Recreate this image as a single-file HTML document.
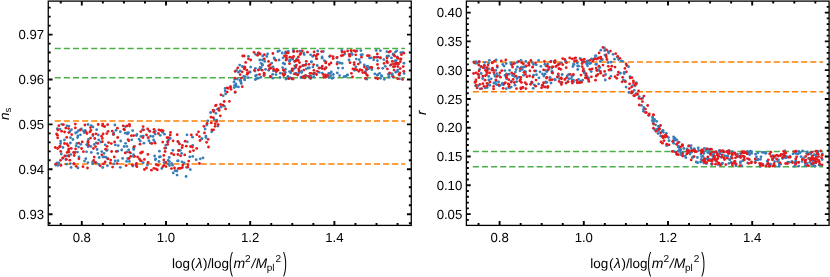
<!DOCTYPE html><html><head><meta charset="utf-8"><title>plot</title><style>html,body{margin:0;padding:0;background:#fff}svg{display:block;will-change:transform}text{font-family:"Liberation Sans",sans-serif;fill:#000;text-rendering:geometricPrecision}</style></head><body><svg width="830" height="277" viewBox="0 0 830 277" font-size="13.5"><rect width="830" height="277" fill="#fff"/><path d="M54.70 48.50H405.00" stroke="#4DAF4A" stroke-width="1.5" stroke-dasharray="6.1 3.02" fill="none"/><path d="M54.70 77.70H405.00" stroke="#4DAF4A" stroke-width="1.5" stroke-dasharray="6.1 3.02" fill="none"/><path d="M54.70 120.90H405.00" stroke="#FF7F00" stroke-width="1.5" stroke-dasharray="6.1 3.02" fill="none"/><path d="M54.70 164.10H405.00" stroke="#FF7F00" stroke-width="1.5" stroke-dasharray="6.1 3.02" fill="none"/><g fill="#377EB8"><circle cx="349.0" cy="60.0" r="1.4"/><circle cx="190.3" cy="169.6" r="1.4"/><circle cx="239.7" cy="65.1" r="1.4"/><circle cx="97.1" cy="149.5" r="1.4"/><circle cx="234.8" cy="79.3" r="1.4"/><circle cx="201.7" cy="138.8" r="1.4"/><circle cx="168.6" cy="139.9" r="1.4"/><circle cx="366.7" cy="79.2" r="1.4"/><circle cx="217.6" cy="109.2" r="1.4"/><circle cx="339.6" cy="62.8" r="1.4"/><circle cx="344.7" cy="53.9" r="1.4"/><circle cx="182.0" cy="161.8" r="1.4"/><circle cx="306.1" cy="64.2" r="1.4"/><circle cx="309.3" cy="77.4" r="1.4"/><circle cx="133.8" cy="148.3" r="1.4"/><circle cx="336.8" cy="57.9" r="1.4"/><circle cx="170.3" cy="138.4" r="1.4"/><circle cx="258.6" cy="78.1" r="1.4"/><circle cx="311.5" cy="61.6" r="1.4"/><circle cx="333.3" cy="74.5" r="1.4"/><circle cx="184.1" cy="162.8" r="1.4"/><circle cx="325.9" cy="68.1" r="1.4"/><circle cx="88.0" cy="124.5" r="1.4"/><circle cx="255.3" cy="79.5" r="1.4"/><circle cx="376.2" cy="57.2" r="1.4"/><circle cx="210.6" cy="112.5" r="1.4"/><circle cx="244.5" cy="78.8" r="1.4"/><circle cx="279.1" cy="60.0" r="1.4"/><circle cx="398.4" cy="64.2" r="1.4"/><circle cx="147.4" cy="164.9" r="1.4"/><circle cx="148.9" cy="140.7" r="1.4"/><circle cx="64.4" cy="139.9" r="1.4"/><circle cx="150.5" cy="136.2" r="1.4"/><circle cx="364.3" cy="64.9" r="1.4"/><circle cx="179.1" cy="150.3" r="1.4"/><circle cx="268.6" cy="70.3" r="1.4"/><circle cx="285.4" cy="53.5" r="1.4"/><circle cx="94.2" cy="144.4" r="1.4"/><circle cx="192.7" cy="145.5" r="1.4"/><circle cx="319.6" cy="67.9" r="1.4"/><circle cx="262.4" cy="60.0" r="1.4"/><circle cx="136.4" cy="135.5" r="1.4"/><circle cx="127.0" cy="151.9" r="1.4"/><circle cx="70.3" cy="163.6" r="1.4"/><circle cx="310.6" cy="76.2" r="1.4"/><circle cx="273.5" cy="70.9" r="1.4"/><circle cx="260.2" cy="68.0" r="1.4"/><circle cx="155.3" cy="159.8" r="1.4"/><circle cx="274.1" cy="58.0" r="1.4"/><circle cx="88.4" cy="139.5" r="1.4"/><circle cx="126.6" cy="161.4" r="1.4"/><circle cx="80.8" cy="144.3" r="1.4"/><circle cx="311.3" cy="62.1" r="1.4"/><circle cx="66.9" cy="125.8" r="1.4"/><circle cx="331.3" cy="72.0" r="1.4"/><circle cx="58.7" cy="163.0" r="1.4"/><circle cx="283.0" cy="57.8" r="1.4"/><circle cx="79.0" cy="156.9" r="1.4"/><circle cx="202.0" cy="138.7" r="1.4"/><circle cx="118.2" cy="145.6" r="1.4"/><circle cx="380.4" cy="50.7" r="1.4"/><circle cx="265.5" cy="69.3" r="1.4"/><circle cx="383.8" cy="59.6" r="1.4"/><circle cx="206.7" cy="125.1" r="1.4"/><circle cx="104.0" cy="153.3" r="1.4"/><circle cx="371.8" cy="69.5" r="1.4"/><circle cx="245.0" cy="76.6" r="1.4"/><circle cx="255.4" cy="68.3" r="1.4"/><circle cx="236.0" cy="84.0" r="1.4"/><circle cx="303.9" cy="76.2" r="1.4"/><circle cx="234.0" cy="82.0" r="1.4"/><circle cx="160.4" cy="156.7" r="1.4"/><circle cx="393.1" cy="53.9" r="1.4"/><circle cx="291.9" cy="78.9" r="1.4"/><circle cx="308.9" cy="76.3" r="1.4"/><circle cx="92.9" cy="135.7" r="1.4"/><circle cx="172.5" cy="165.2" r="1.4"/><circle cx="399.5" cy="75.2" r="1.4"/><circle cx="92.9" cy="126.9" r="1.4"/><circle cx="323.3" cy="51.5" r="1.4"/><circle cx="173.2" cy="172.9" r="1.4"/><circle cx="78.5" cy="130.6" r="1.4"/><circle cx="189.8" cy="156.9" r="1.4"/><circle cx="107.3" cy="149.8" r="1.4"/><circle cx="118.0" cy="160.7" r="1.4"/><circle cx="96.4" cy="162.9" r="1.4"/><circle cx="85.1" cy="130.3" r="1.4"/><circle cx="344.0" cy="76.7" r="1.4"/><circle cx="261.0" cy="67.3" r="1.4"/><circle cx="367.8" cy="66.5" r="1.4"/><circle cx="295.5" cy="67.5" r="1.4"/><circle cx="71.5" cy="129.6" r="1.4"/><circle cx="236.2" cy="86.4" r="1.4"/><circle cx="214.1" cy="110.3" r="1.4"/><circle cx="241.3" cy="83.5" r="1.4"/><circle cx="276.2" cy="71.6" r="1.4"/><circle cx="167.5" cy="141.7" r="1.4"/><circle cx="175.1" cy="170.7" r="1.4"/><circle cx="293.4" cy="51.6" r="1.4"/><circle cx="143.2" cy="162.7" r="1.4"/><circle cx="403.9" cy="63.2" r="1.4"/><circle cx="76.9" cy="143.3" r="1.4"/><circle cx="284.6" cy="71.3" r="1.4"/><circle cx="389.0" cy="77.4" r="1.4"/><circle cx="390.3" cy="65.3" r="1.4"/><circle cx="374.8" cy="73.9" r="1.4"/><circle cx="215.9" cy="113.3" r="1.4"/><circle cx="68.9" cy="126.1" r="1.4"/><circle cx="102.7" cy="167.5" r="1.4"/><circle cx="133.7" cy="149.6" r="1.4"/><circle cx="78.6" cy="147.1" r="1.4"/><circle cx="106.1" cy="157.4" r="1.4"/><circle cx="205.9" cy="136.1" r="1.4"/><circle cx="330.2" cy="73.4" r="1.4"/><circle cx="124.2" cy="146.5" r="1.4"/><circle cx="205.9" cy="137.5" r="1.4"/><circle cx="87.9" cy="162.6" r="1.4"/><circle cx="332.1" cy="78.4" r="1.4"/><circle cx="238.4" cy="72.2" r="1.4"/><circle cx="84.3" cy="132.7" r="1.4"/><circle cx="303.7" cy="52.8" r="1.4"/><circle cx="389.2" cy="74.0" r="1.4"/><circle cx="159.0" cy="161.5" r="1.4"/><circle cx="286.0" cy="79.0" r="1.4"/><circle cx="77.5" cy="152.1" r="1.4"/><circle cx="266.8" cy="56.4" r="1.4"/><circle cx="287.8" cy="76.5" r="1.4"/><circle cx="96.2" cy="142.8" r="1.4"/><circle cx="285.6" cy="51.9" r="1.4"/><circle cx="86.7" cy="144.6" r="1.4"/><circle cx="291.6" cy="57.8" r="1.4"/><circle cx="237.3" cy="79.1" r="1.4"/><circle cx="355.9" cy="66.8" r="1.4"/><circle cx="396.2" cy="60.6" r="1.4"/><circle cx="107.8" cy="158.7" r="1.4"/><circle cx="115.3" cy="144.9" r="1.4"/><circle cx="322.3" cy="73.2" r="1.4"/><circle cx="394.7" cy="61.0" r="1.4"/><circle cx="400.4" cy="59.5" r="1.4"/><circle cx="270.2" cy="76.5" r="1.4"/><circle cx="88.2" cy="146.7" r="1.4"/><circle cx="192.7" cy="156.4" r="1.4"/><circle cx="178.2" cy="160.8" r="1.4"/><circle cx="62.9" cy="147.5" r="1.4"/><circle cx="107.5" cy="165.7" r="1.4"/><circle cx="340.0" cy="63.1" r="1.4"/><circle cx="305.5" cy="75.7" r="1.4"/><circle cx="65.9" cy="159.6" r="1.4"/><circle cx="77.9" cy="135.8" r="1.4"/><circle cx="225.1" cy="88.5" r="1.4"/><circle cx="91.3" cy="152.4" r="1.4"/><circle cx="230.3" cy="86.7" r="1.4"/><circle cx="350.4" cy="54.6" r="1.4"/><circle cx="274.8" cy="59.2" r="1.4"/><circle cx="180.3" cy="150.4" r="1.4"/><circle cx="312.9" cy="66.9" r="1.4"/><circle cx="282.6" cy="67.6" r="1.4"/><circle cx="129.4" cy="161.4" r="1.4"/><circle cx="255.0" cy="71.0" r="1.4"/><circle cx="250.7" cy="67.1" r="1.4"/><circle cx="240.1" cy="70.9" r="1.4"/><circle cx="132.7" cy="130.6" r="1.4"/><circle cx="242.3" cy="66.5" r="1.4"/><circle cx="328.4" cy="76.8" r="1.4"/><circle cx="134.5" cy="146.3" r="1.4"/><circle cx="113.3" cy="134.4" r="1.4"/><circle cx="312.7" cy="56.4" r="1.4"/><circle cx="361.0" cy="54.9" r="1.4"/><circle cx="186.1" cy="176.5" r="1.4"/><circle cx="115.2" cy="161.0" r="1.4"/><circle cx="397.8" cy="70.1" r="1.4"/><circle cx="388.9" cy="76.5" r="1.4"/><circle cx="308.2" cy="68.0" r="1.4"/><circle cx="81.1" cy="129.4" r="1.4"/><circle cx="142.4" cy="129.6" r="1.4"/><circle cx="85.8" cy="158.7" r="1.4"/><circle cx="392.4" cy="76.2" r="1.4"/><circle cx="255.5" cy="75.9" r="1.4"/><circle cx="169.2" cy="157.5" r="1.4"/><circle cx="289.7" cy="61.1" r="1.4"/><circle cx="262.4" cy="65.2" r="1.4"/><circle cx="120.7" cy="141.0" r="1.4"/><circle cx="60.6" cy="143.5" r="1.4"/><circle cx="106.7" cy="150.5" r="1.4"/><circle cx="234.2" cy="87.6" r="1.4"/><circle cx="101.7" cy="151.6" r="1.4"/><circle cx="154.7" cy="141.9" r="1.4"/><circle cx="178.5" cy="142.3" r="1.4"/><circle cx="397.3" cy="56.8" r="1.4"/><circle cx="154.6" cy="156.0" r="1.4"/><circle cx="330.7" cy="75.7" r="1.4"/><circle cx="359.3" cy="59.7" r="1.4"/><circle cx="373.7" cy="59.8" r="1.4"/><circle cx="162.5" cy="132.3" r="1.4"/><circle cx="256.6" cy="75.1" r="1.4"/><circle cx="382.7" cy="68.3" r="1.4"/><circle cx="196.2" cy="159.7" r="1.4"/><circle cx="136.1" cy="165.4" r="1.4"/><circle cx="384.3" cy="79.3" r="1.4"/><circle cx="141.0" cy="136.3" r="1.4"/><circle cx="280.3" cy="73.2" r="1.4"/><circle cx="77.9" cy="167.9" r="1.4"/><circle cx="352.3" cy="54.6" r="1.4"/><circle cx="255.6" cy="54.3" r="1.4"/><circle cx="127.6" cy="133.9" r="1.4"/><circle cx="309.4" cy="67.9" r="1.4"/><circle cx="72.9" cy="139.5" r="1.4"/><circle cx="392.3" cy="74.3" r="1.4"/><circle cx="205.1" cy="129.0" r="1.4"/><circle cx="290.1" cy="77.7" r="1.4"/><circle cx="310.7" cy="76.1" r="1.4"/><circle cx="287.5" cy="51.8" r="1.4"/><circle cx="292.1" cy="70.7" r="1.4"/><circle cx="301.6" cy="77.6" r="1.4"/><circle cx="304.2" cy="54.6" r="1.4"/><circle cx="172.9" cy="150.3" r="1.4"/><circle cx="159.4" cy="151.2" r="1.4"/><circle cx="356.3" cy="59.1" r="1.4"/><circle cx="130.6" cy="153.1" r="1.4"/><circle cx="267.6" cy="54.0" r="1.4"/><circle cx="360.9" cy="50.6" r="1.4"/><circle cx="131.8" cy="139.8" r="1.4"/><circle cx="366.9" cy="66.5" r="1.4"/><circle cx="127.6" cy="158.6" r="1.4"/><circle cx="155.2" cy="134.1" r="1.4"/><circle cx="92.8" cy="163.7" r="1.4"/><circle cx="164.1" cy="162.6" r="1.4"/><circle cx="293.4" cy="50.5" r="1.4"/><circle cx="317.2" cy="54.5" r="1.4"/><circle cx="292.6" cy="59.2" r="1.4"/><circle cx="155.7" cy="158.9" r="1.4"/><circle cx="164.4" cy="134.2" r="1.4"/><circle cx="388.4" cy="74.2" r="1.4"/><circle cx="98.8" cy="164.5" r="1.4"/><circle cx="291.9" cy="70.8" r="1.4"/><circle cx="99.2" cy="157.5" r="1.4"/><circle cx="262.7" cy="56.0" r="1.4"/><circle cx="371.1" cy="57.8" r="1.4"/><circle cx="316.8" cy="58.9" r="1.4"/><circle cx="289.5" cy="71.6" r="1.4"/><circle cx="296.1" cy="73.1" r="1.4"/><circle cx="177.5" cy="160.9" r="1.4"/><circle cx="159.3" cy="157.0" r="1.4"/><circle cx="126.9" cy="146.4" r="1.4"/><circle cx="299.9" cy="51.2" r="1.4"/><circle cx="97.8" cy="153.4" r="1.4"/><circle cx="168.2" cy="160.3" r="1.4"/><circle cx="302.7" cy="65.6" r="1.4"/><circle cx="140.2" cy="160.5" r="1.4"/><circle cx="86.5" cy="151.8" r="1.4"/><circle cx="114.9" cy="125.0" r="1.4"/><circle cx="337.3" cy="72.9" r="1.4"/><circle cx="81.3" cy="128.8" r="1.4"/><circle cx="341.8" cy="50.5" r="1.4"/><circle cx="223.2" cy="95.8" r="1.4"/><circle cx="290.7" cy="72.8" r="1.4"/><circle cx="96.7" cy="129.7" r="1.4"/><circle cx="128.7" cy="149.8" r="1.4"/><circle cx="294.7" cy="65.8" r="1.4"/><circle cx="385.3" cy="66.3" r="1.4"/><circle cx="140.3" cy="140.9" r="1.4"/><circle cx="338.2" cy="68.1" r="1.4"/><circle cx="187.3" cy="141.8" r="1.4"/><circle cx="75.6" cy="133.0" r="1.4"/><circle cx="98.7" cy="139.9" r="1.4"/><circle cx="169.5" cy="165.6" r="1.4"/><circle cx="289.5" cy="60.9" r="1.4"/><circle cx="113.9" cy="163.9" r="1.4"/><circle cx="61.3" cy="154.0" r="1.4"/><circle cx="273.1" cy="67.0" r="1.4"/><circle cx="391.5" cy="57.9" r="1.4"/><circle cx="393.3" cy="54.6" r="1.4"/><circle cx="60.9" cy="164.9" r="1.4"/><circle cx="262.3" cy="64.5" r="1.4"/><circle cx="285.5" cy="69.2" r="1.4"/><circle cx="317.7" cy="50.9" r="1.4"/><circle cx="160.2" cy="135.3" r="1.4"/><circle cx="313.7" cy="74.2" r="1.4"/><circle cx="404.1" cy="73.4" r="1.4"/><circle cx="285.4" cy="72.4" r="1.4"/><circle cx="236.4" cy="70.4" r="1.4"/><circle cx="169.2" cy="161.3" r="1.4"/><circle cx="365.4" cy="71.7" r="1.4"/><circle cx="92.6" cy="161.9" r="1.4"/><circle cx="354.6" cy="70.3" r="1.4"/><circle cx="362.4" cy="54.6" r="1.4"/><circle cx="339.6" cy="75.6" r="1.4"/><circle cx="149.4" cy="130.8" r="1.4"/><circle cx="77.2" cy="132.1" r="1.4"/><circle cx="310.6" cy="78.5" r="1.4"/><circle cx="288.4" cy="51.5" r="1.4"/><circle cx="260.9" cy="77.1" r="1.4"/><circle cx="122.6" cy="158.4" r="1.4"/><circle cx="276.0" cy="74.6" r="1.4"/><circle cx="387.0" cy="56.2" r="1.4"/><circle cx="322.1" cy="58.2" r="1.4"/><circle cx="376.2" cy="50.4" r="1.4"/><circle cx="218.0" cy="126.1" r="1.4"/><circle cx="216.8" cy="120.2" r="1.4"/><circle cx="57.0" cy="162.9" r="1.4"/><circle cx="60.0" cy="129.1" r="1.4"/><circle cx="120.3" cy="131.7" r="1.4"/><circle cx="165.8" cy="145.1" r="1.4"/><circle cx="133.5" cy="154.7" r="1.4"/><circle cx="61.8" cy="124.3" r="1.4"/><circle cx="117.7" cy="151.2" r="1.4"/><circle cx="62.5" cy="158.4" r="1.4"/><circle cx="279.4" cy="50.8" r="1.4"/><circle cx="345.7" cy="76.5" r="1.4"/><circle cx="395.8" cy="72.2" r="1.4"/><circle cx="116.0" cy="130.3" r="1.4"/><circle cx="69.9" cy="131.5" r="1.4"/><circle cx="270.3" cy="67.9" r="1.4"/><circle cx="248.4" cy="56.3" r="1.4"/><circle cx="377.4" cy="75.3" r="1.4"/><circle cx="313.7" cy="76.7" r="1.4"/><circle cx="214.3" cy="119.7" r="1.4"/><circle cx="136.9" cy="134.5" r="1.4"/><circle cx="329.4" cy="56.6" r="1.4"/><circle cx="128.5" cy="132.7" r="1.4"/><circle cx="391.8" cy="73.6" r="1.4"/><circle cx="98.3" cy="135.0" r="1.4"/><circle cx="381.7" cy="76.2" r="1.4"/><circle cx="306.4" cy="68.8" r="1.4"/><circle cx="329.0" cy="77.5" r="1.4"/><circle cx="87.2" cy="145.0" r="1.4"/><circle cx="104.4" cy="126.4" r="1.4"/><circle cx="294.1" cy="73.9" r="1.4"/><circle cx="337.5" cy="62.1" r="1.4"/><circle cx="187.0" cy="134.8" r="1.4"/><circle cx="296.8" cy="58.9" r="1.4"/><circle cx="380.5" cy="58.0" r="1.4"/><circle cx="377.7" cy="74.6" r="1.4"/><circle cx="264.7" cy="61.4" r="1.4"/><circle cx="80.4" cy="134.8" r="1.4"/><circle cx="91.1" cy="125.6" r="1.4"/><circle cx="284.7" cy="64.0" r="1.4"/><circle cx="261.1" cy="63.3" r="1.4"/><circle cx="277.9" cy="51.5" r="1.4"/><circle cx="324.4" cy="60.7" r="1.4"/><circle cx="243.6" cy="76.4" r="1.4"/><circle cx="395.4" cy="52.1" r="1.4"/><circle cx="248.1" cy="77.6" r="1.4"/><circle cx="153.6" cy="140.0" r="1.4"/><circle cx="300.9" cy="77.4" r="1.4"/><circle cx="103.0" cy="157.0" r="1.4"/><circle cx="368.5" cy="68.7" r="1.4"/><circle cx="377.4" cy="60.7" r="1.4"/><circle cx="386.9" cy="51.7" r="1.4"/><circle cx="65.9" cy="156.0" r="1.4"/><circle cx="66.4" cy="164.2" r="1.4"/><circle cx="272.7" cy="74.3" r="1.4"/><circle cx="177.1" cy="175.1" r="1.4"/><circle cx="125.6" cy="143.3" r="1.4"/><circle cx="397.4" cy="71.4" r="1.4"/><circle cx="220.9" cy="107.2" r="1.4"/><circle cx="259.8" cy="69.3" r="1.4"/><circle cx="200.3" cy="158.8" r="1.4"/><circle cx="186.6" cy="167.3" r="1.4"/><circle cx="76.1" cy="145.7" r="1.4"/><circle cx="240.7" cy="80.5" r="1.4"/><circle cx="365.3" cy="72.9" r="1.4"/><circle cx="402.9" cy="52.3" r="1.4"/><circle cx="287.2" cy="59.1" r="1.4"/><circle cx="379.6" cy="73.3" r="1.4"/><circle cx="369.5" cy="58.1" r="1.4"/><circle cx="161.8" cy="168.5" r="1.4"/><circle cx="192.6" cy="137.2" r="1.4"/><circle cx="240.0" cy="80.2" r="1.4"/><circle cx="360.2" cy="62.4" r="1.4"/><circle cx="71.1" cy="167.4" r="1.4"/><circle cx="264.3" cy="74.3" r="1.4"/><circle cx="347.6" cy="74.8" r="1.4"/><circle cx="100.8" cy="142.0" r="1.4"/><circle cx="225.6" cy="93.9" r="1.4"/><circle cx="294.5" cy="61.3" r="1.4"/><circle cx="125.5" cy="126.6" r="1.4"/><circle cx="244.7" cy="79.9" r="1.4"/><circle cx="113.7" cy="133.0" r="1.4"/><circle cx="271.7" cy="63.1" r="1.4"/><circle cx="225.2" cy="91.0" r="1.4"/><circle cx="176.9" cy="171.0" r="1.4"/><circle cx="342.1" cy="63.4" r="1.4"/><circle cx="290.0" cy="60.4" r="1.4"/><circle cx="367.1" cy="69.5" r="1.4"/><circle cx="319.2" cy="72.3" r="1.4"/><circle cx="380.5" cy="78.3" r="1.4"/><circle cx="259.8" cy="60.0" r="1.4"/><circle cx="203.0" cy="157.9" r="1.4"/><circle cx="322.1" cy="56.9" r="1.4"/><circle cx="333.3" cy="77.6" r="1.4"/><circle cx="301.5" cy="71.2" r="1.4"/><circle cx="57.8" cy="165.4" r="1.4"/><circle cx="351.6" cy="53.3" r="1.4"/><circle cx="153.0" cy="136.4" r="1.4"/><circle cx="234.6" cy="85.4" r="1.4"/><circle cx="165.9" cy="147.9" r="1.4"/><circle cx="288.3" cy="78.5" r="1.4"/><circle cx="132.8" cy="166.0" r="1.4"/><circle cx="90.8" cy="146.4" r="1.4"/><circle cx="238.4" cy="86.9" r="1.4"/><circle cx="70.8" cy="154.6" r="1.4"/><circle cx="55.7" cy="165.1" r="1.4"/><circle cx="105.2" cy="144.8" r="1.4"/><circle cx="301.6" cy="72.5" r="1.4"/><circle cx="240.7" cy="81.8" r="1.4"/><circle cx="70.4" cy="143.0" r="1.4"/><circle cx="181.6" cy="153.4" r="1.4"/><circle cx="224.3" cy="106.2" r="1.4"/><circle cx="120.3" cy="167.3" r="1.4"/><circle cx="256.7" cy="78.8" r="1.4"/><circle cx="207.8" cy="120.9" r="1.4"/><circle cx="298.9" cy="73.1" r="1.4"/><circle cx="171.5" cy="163.3" r="1.4"/><circle cx="347.1" cy="75.2" r="1.4"/><circle cx="400.8" cy="52.6" r="1.4"/><circle cx="84.5" cy="161.1" r="1.4"/><circle cx="381.5" cy="75.6" r="1.4"/><circle cx="83.5" cy="131.1" r="1.4"/><circle cx="143.9" cy="143.2" r="1.4"/><circle cx="310.6" cy="54.8" r="1.4"/><circle cx="260.1" cy="67.4" r="1.4"/><circle cx="133.5" cy="156.4" r="1.4"/><circle cx="314.7" cy="73.2" r="1.4"/><circle cx="282.3" cy="53.0" r="1.4"/><circle cx="211.7" cy="131.8" r="1.4"/><circle cx="155.2" cy="131.2" r="1.4"/><circle cx="168.3" cy="163.8" r="1.4"/><circle cx="121.7" cy="150.0" r="1.4"/><circle cx="280.0" cy="77.5" r="1.4"/><circle cx="396.7" cy="50.8" r="1.4"/><circle cx="283.3" cy="63.2" r="1.4"/><circle cx="104.5" cy="156.8" r="1.4"/><circle cx="250.2" cy="72.0" r="1.4"/><circle cx="293.8" cy="68.9" r="1.4"/><circle cx="70.5" cy="137.7" r="1.4"/><circle cx="356.9" cy="50.9" r="1.4"/><circle cx="57.3" cy="128.7" r="1.4"/><circle cx="329.4" cy="73.3" r="1.4"/><circle cx="150.2" cy="142.9" r="1.4"/><circle cx="342.7" cy="68.1" r="1.4"/><circle cx="388.7" cy="55.9" r="1.4"/><circle cx="399.5" cy="78.8" r="1.4"/><circle cx="272.8" cy="78.2" r="1.4"/><circle cx="127.1" cy="132.8" r="1.4"/><circle cx="143.2" cy="136.1" r="1.4"/><circle cx="125.3" cy="133.2" r="1.4"/><circle cx="77.6" cy="137.6" r="1.4"/><circle cx="60.6" cy="141.1" r="1.4"/><circle cx="317.2" cy="65.5" r="1.4"/><circle cx="235.1" cy="92.4" r="1.4"/><circle cx="139.0" cy="139.1" r="1.4"/><circle cx="328.7" cy="73.4" r="1.4"/></g><g fill="#E41A1C"><circle cx="300.4" cy="66.8" r="1.4"/><circle cx="162.7" cy="142.1" r="1.4"/><circle cx="142.9" cy="137.6" r="1.4"/><circle cx="317.8" cy="54.2" r="1.4"/><circle cx="81.6" cy="148.5" r="1.4"/><circle cx="299.0" cy="71.0" r="1.4"/><circle cx="68.4" cy="155.6" r="1.4"/><circle cx="196.7" cy="148.4" r="1.4"/><circle cx="190.0" cy="151.7" r="1.4"/><circle cx="321.6" cy="51.6" r="1.4"/><circle cx="264.3" cy="58.9" r="1.4"/><circle cx="105.1" cy="161.9" r="1.4"/><circle cx="218.1" cy="124.6" r="1.4"/><circle cx="337.0" cy="64.0" r="1.4"/><circle cx="367.4" cy="55.7" r="1.4"/><circle cx="344.5" cy="52.0" r="1.4"/><circle cx="185.2" cy="141.2" r="1.4"/><circle cx="227.2" cy="92.1" r="1.4"/><circle cx="262.2" cy="70.2" r="1.4"/><circle cx="259.5" cy="74.4" r="1.4"/><circle cx="247.2" cy="74.3" r="1.4"/><circle cx="163.9" cy="165.3" r="1.4"/><circle cx="68.9" cy="152.1" r="1.4"/><circle cx="68.2" cy="145.7" r="1.4"/><circle cx="377.8" cy="57.2" r="1.4"/><circle cx="88.1" cy="142.7" r="1.4"/><circle cx="220.3" cy="115.8" r="1.4"/><circle cx="296.2" cy="60.5" r="1.4"/><circle cx="136.5" cy="163.3" r="1.4"/><circle cx="108.1" cy="131.3" r="1.4"/><circle cx="394.7" cy="56.1" r="1.4"/><circle cx="296.4" cy="65.1" r="1.4"/><circle cx="225.6" cy="108.9" r="1.4"/><circle cx="161.6" cy="130.2" r="1.4"/><circle cx="231.0" cy="89.3" r="1.4"/><circle cx="124.5" cy="129.8" r="1.4"/><circle cx="75.3" cy="124.1" r="1.4"/><circle cx="276.1" cy="71.0" r="1.4"/><circle cx="272.9" cy="53.5" r="1.4"/><circle cx="106.8" cy="133.6" r="1.4"/><circle cx="316.2" cy="56.1" r="1.4"/><circle cx="158.4" cy="133.5" r="1.4"/><circle cx="369.2" cy="55.7" r="1.4"/><circle cx="257.6" cy="55.3" r="1.4"/><circle cx="401.4" cy="54.7" r="1.4"/><circle cx="129.0" cy="158.5" r="1.4"/><circle cx="188.0" cy="164.7" r="1.4"/><circle cx="68.5" cy="149.9" r="1.4"/><circle cx="283.7" cy="75.5" r="1.4"/><circle cx="80.3" cy="130.0" r="1.4"/><circle cx="394.1" cy="70.1" r="1.4"/><circle cx="56.6" cy="134.0" r="1.4"/><circle cx="111.3" cy="143.6" r="1.4"/><circle cx="278.0" cy="70.2" r="1.4"/><circle cx="282.7" cy="73.6" r="1.4"/><circle cx="227.2" cy="87.8" r="1.4"/><circle cx="188.7" cy="161.1" r="1.4"/><circle cx="177.8" cy="141.5" r="1.4"/><circle cx="60.5" cy="160.3" r="1.4"/><circle cx="213.6" cy="129.8" r="1.4"/><circle cx="206.6" cy="142.3" r="1.4"/><circle cx="168.5" cy="137.6" r="1.4"/><circle cx="394.8" cy="66.4" r="1.4"/><circle cx="162.9" cy="166.6" r="1.4"/><circle cx="325.7" cy="62.9" r="1.4"/><circle cx="299.5" cy="62.6" r="1.4"/><circle cx="219.2" cy="110.4" r="1.4"/><circle cx="308.3" cy="76.3" r="1.4"/><circle cx="184.7" cy="154.9" r="1.4"/><circle cx="110.7" cy="160.1" r="1.4"/><circle cx="355.7" cy="54.8" r="1.4"/><circle cx="235.2" cy="78.1" r="1.4"/><circle cx="140.6" cy="152.9" r="1.4"/><circle cx="198.5" cy="131.8" r="1.4"/><circle cx="298.4" cy="57.0" r="1.4"/><circle cx="90.5" cy="138.1" r="1.4"/><circle cx="180.5" cy="168.3" r="1.4"/><circle cx="314.0" cy="55.3" r="1.4"/><circle cx="374.0" cy="57.5" r="1.4"/><circle cx="165.1" cy="151.5" r="1.4"/><circle cx="55.3" cy="147.5" r="1.4"/><circle cx="153.9" cy="132.2" r="1.4"/><circle cx="244.2" cy="56.0" r="1.4"/><circle cx="134.6" cy="156.4" r="1.4"/><circle cx="398.0" cy="58.4" r="1.4"/><circle cx="303.6" cy="65.5" r="1.4"/><circle cx="349.7" cy="56.2" r="1.4"/><circle cx="354.2" cy="64.6" r="1.4"/><circle cx="178.4" cy="150.5" r="1.4"/><circle cx="167.9" cy="141.7" r="1.4"/><circle cx="223.0" cy="105.2" r="1.4"/><circle cx="102.7" cy="124.1" r="1.4"/><circle cx="258.3" cy="53.0" r="1.4"/><circle cx="331.0" cy="62.9" r="1.4"/><circle cx="378.3" cy="68.2" r="1.4"/><circle cx="191.3" cy="135.0" r="1.4"/><circle cx="361.5" cy="57.2" r="1.4"/><circle cx="182.4" cy="145.4" r="1.4"/><circle cx="395.6" cy="63.7" r="1.4"/><circle cx="108.6" cy="142.6" r="1.4"/><circle cx="403.8" cy="71.3" r="1.4"/><circle cx="187.7" cy="167.2" r="1.4"/><circle cx="97.8" cy="143.4" r="1.4"/><circle cx="78.7" cy="143.1" r="1.4"/><circle cx="403.8" cy="53.2" r="1.4"/><circle cx="284.7" cy="74.2" r="1.4"/><circle cx="158.2" cy="165.3" r="1.4"/><circle cx="129.4" cy="124.3" r="1.4"/><circle cx="147.7" cy="129.0" r="1.4"/><circle cx="157.3" cy="169.8" r="1.4"/><circle cx="215.5" cy="105.7" r="1.4"/><circle cx="203.9" cy="126.3" r="1.4"/><circle cx="178.3" cy="168.6" r="1.4"/><circle cx="330.4" cy="55.9" r="1.4"/><circle cx="291.9" cy="78.4" r="1.4"/><circle cx="352.5" cy="76.9" r="1.4"/><circle cx="93.4" cy="148.4" r="1.4"/><circle cx="350.0" cy="62.7" r="1.4"/><circle cx="182.1" cy="147.7" r="1.4"/><circle cx="365.3" cy="78.4" r="1.4"/><circle cx="286.3" cy="57.8" r="1.4"/><circle cx="73.6" cy="152.5" r="1.4"/><circle cx="274.0" cy="69.8" r="1.4"/><circle cx="211.0" cy="117.2" r="1.4"/><circle cx="93.0" cy="134.4" r="1.4"/><circle cx="88.7" cy="145.3" r="1.4"/><circle cx="151.4" cy="170.2" r="1.4"/><circle cx="241.4" cy="78.1" r="1.4"/><circle cx="254.0" cy="52.3" r="1.4"/><circle cx="164.8" cy="148.2" r="1.4"/><circle cx="398.2" cy="63.4" r="1.4"/><circle cx="240.1" cy="74.6" r="1.4"/><circle cx="283.8" cy="70.3" r="1.4"/><circle cx="318.9" cy="68.1" r="1.4"/><circle cx="375.7" cy="78.0" r="1.4"/><circle cx="196.8" cy="134.7" r="1.4"/><circle cx="337.1" cy="57.3" r="1.4"/><circle cx="322.3" cy="66.1" r="1.4"/><circle cx="216.2" cy="105.1" r="1.4"/><circle cx="316.6" cy="74.5" r="1.4"/><circle cx="343.0" cy="55.3" r="1.4"/><circle cx="370.4" cy="67.3" r="1.4"/><circle cx="310.8" cy="73.3" r="1.4"/><circle cx="393.6" cy="63.8" r="1.4"/><circle cx="149.8" cy="131.3" r="1.4"/><circle cx="306.3" cy="61.3" r="1.4"/><circle cx="213.6" cy="111.7" r="1.4"/><circle cx="310.7" cy="77.9" r="1.4"/><circle cx="57.6" cy="148.5" r="1.4"/><circle cx="355.6" cy="51.4" r="1.4"/><circle cx="288.9" cy="78.5" r="1.4"/><circle cx="250.7" cy="60.0" r="1.4"/><circle cx="69.8" cy="160.2" r="1.4"/><circle cx="302.2" cy="50.8" r="1.4"/><circle cx="329.2" cy="64.5" r="1.4"/><circle cx="244.9" cy="67.3" r="1.4"/><circle cx="90.4" cy="127.6" r="1.4"/><circle cx="163.2" cy="130.8" r="1.4"/><circle cx="286.5" cy="55.8" r="1.4"/><circle cx="322.2" cy="68.6" r="1.4"/><circle cx="83.4" cy="151.7" r="1.4"/><circle cx="307.5" cy="52.2" r="1.4"/><circle cx="128.1" cy="139.7" r="1.4"/><circle cx="295.7" cy="67.0" r="1.4"/><circle cx="148.2" cy="137.7" r="1.4"/><circle cx="60.1" cy="146.2" r="1.4"/><circle cx="146.5" cy="168.0" r="1.4"/><circle cx="96.0" cy="133.8" r="1.4"/><circle cx="67.1" cy="152.4" r="1.4"/><circle cx="254.4" cy="70.3" r="1.4"/><circle cx="129.5" cy="152.3" r="1.4"/><circle cx="286.0" cy="60.1" r="1.4"/><circle cx="300.9" cy="53.4" r="1.4"/><circle cx="354.3" cy="50.7" r="1.4"/><circle cx="76.2" cy="166.3" r="1.4"/><circle cx="116.3" cy="151.4" r="1.4"/><circle cx="298.3" cy="60.5" r="1.4"/><circle cx="260.1" cy="54.0" r="1.4"/><circle cx="316.3" cy="58.6" r="1.4"/><circle cx="73.8" cy="164.0" r="1.4"/><circle cx="402.5" cy="79.4" r="1.4"/><circle cx="133.8" cy="146.9" r="1.4"/><circle cx="224.2" cy="101.5" r="1.4"/><circle cx="300.0" cy="67.1" r="1.4"/><circle cx="342.0" cy="52.0" r="1.4"/><circle cx="131.4" cy="135.7" r="1.4"/><circle cx="102.5" cy="125.7" r="1.4"/><circle cx="313.7" cy="64.6" r="1.4"/><circle cx="401.0" cy="59.0" r="1.4"/><circle cx="98.2" cy="124.5" r="1.4"/><circle cx="228.0" cy="88.3" r="1.4"/><circle cx="362.8" cy="72.6" r="1.4"/><circle cx="60.7" cy="151.4" r="1.4"/><circle cx="75.6" cy="148.9" r="1.4"/><circle cx="364.4" cy="67.1" r="1.4"/><circle cx="293.8" cy="51.5" r="1.4"/><circle cx="289.5" cy="63.7" r="1.4"/><circle cx="63.4" cy="124.7" r="1.4"/><circle cx="393.4" cy="76.9" r="1.4"/><circle cx="216.7" cy="121.4" r="1.4"/><circle cx="71.7" cy="134.6" r="1.4"/><circle cx="171.5" cy="168.6" r="1.4"/><circle cx="351.2" cy="50.8" r="1.4"/><circle cx="333.2" cy="58.6" r="1.4"/><circle cx="167.0" cy="137.7" r="1.4"/><circle cx="68.9" cy="148.9" r="1.4"/><circle cx="387.0" cy="58.1" r="1.4"/><circle cx="351.4" cy="73.3" r="1.4"/><circle cx="365.2" cy="72.7" r="1.4"/><circle cx="391.4" cy="64.7" r="1.4"/><circle cx="244.0" cy="67.8" r="1.4"/><circle cx="305.6" cy="75.6" r="1.4"/><circle cx="107.6" cy="124.7" r="1.4"/><circle cx="179.7" cy="168.1" r="1.4"/><circle cx="199.4" cy="163.5" r="1.4"/><circle cx="179.5" cy="143.9" r="1.4"/><circle cx="123.2" cy="125.8" r="1.4"/><circle cx="207.1" cy="123.5" r="1.4"/><circle cx="392.3" cy="61.4" r="1.4"/><circle cx="327.6" cy="75.3" r="1.4"/><circle cx="387.5" cy="62.7" r="1.4"/><circle cx="268.5" cy="61.4" r="1.4"/><circle cx="218.6" cy="108.7" r="1.4"/><circle cx="167.7" cy="144.4" r="1.4"/><circle cx="400.2" cy="68.6" r="1.4"/><circle cx="288.1" cy="52.9" r="1.4"/><circle cx="84.9" cy="125.0" r="1.4"/><circle cx="208.5" cy="147.0" r="1.4"/><circle cx="242.2" cy="71.8" r="1.4"/><circle cx="297.7" cy="74.9" r="1.4"/><circle cx="129.6" cy="126.1" r="1.4"/><circle cx="397.4" cy="63.9" r="1.4"/><circle cx="94.2" cy="157.1" r="1.4"/><circle cx="390.3" cy="51.4" r="1.4"/><circle cx="389.6" cy="73.0" r="1.4"/><circle cx="292.5" cy="57.8" r="1.4"/><circle cx="213.1" cy="110.1" r="1.4"/><circle cx="258.3" cy="70.0" r="1.4"/><circle cx="60.9" cy="165.4" r="1.4"/><circle cx="101.5" cy="136.2" r="1.4"/><circle cx="163.8" cy="155.4" r="1.4"/><circle cx="324.6" cy="69.0" r="1.4"/><circle cx="313.9" cy="70.3" r="1.4"/><circle cx="295.1" cy="74.0" r="1.4"/><circle cx="246.9" cy="70.2" r="1.4"/><circle cx="74.0" cy="163.6" r="1.4"/><circle cx="158.9" cy="129.9" r="1.4"/><circle cx="102.4" cy="141.7" r="1.4"/><circle cx="117.4" cy="128.2" r="1.4"/><circle cx="87.5" cy="168.0" r="1.4"/><circle cx="211.3" cy="122.9" r="1.4"/><circle cx="276.9" cy="69.3" r="1.4"/><circle cx="220.6" cy="104.5" r="1.4"/><circle cx="314.1" cy="51.9" r="1.4"/><circle cx="360.0" cy="69.6" r="1.4"/><circle cx="215.1" cy="126.3" r="1.4"/><circle cx="354.2" cy="62.6" r="1.4"/><circle cx="271.3" cy="67.9" r="1.4"/><circle cx="268.6" cy="65.9" r="1.4"/><circle cx="107.1" cy="146.3" r="1.4"/><circle cx="403.2" cy="66.6" r="1.4"/><circle cx="127.0" cy="125.9" r="1.4"/><circle cx="397.1" cy="63.8" r="1.4"/><circle cx="141.2" cy="160.9" r="1.4"/><circle cx="90.9" cy="130.4" r="1.4"/><circle cx="112.6" cy="167.1" r="1.4"/><circle cx="292.2" cy="70.6" r="1.4"/><circle cx="55.7" cy="164.1" r="1.4"/><circle cx="166.0" cy="166.6" r="1.4"/><circle cx="78.9" cy="158.8" r="1.4"/><circle cx="270.8" cy="76.7" r="1.4"/><circle cx="139.4" cy="158.9" r="1.4"/><circle cx="292.1" cy="68.9" r="1.4"/><circle cx="113.6" cy="134.3" r="1.4"/><circle cx="104.6" cy="126.4" r="1.4"/><circle cx="137.6" cy="156.9" r="1.4"/><circle cx="59.5" cy="147.0" r="1.4"/><circle cx="68.6" cy="128.6" r="1.4"/><circle cx="380.3" cy="57.7" r="1.4"/><circle cx="300.1" cy="54.5" r="1.4"/><circle cx="293.1" cy="79.1" r="1.4"/><circle cx="400.3" cy="61.8" r="1.4"/><circle cx="248.4" cy="58.8" r="1.4"/><circle cx="355.3" cy="68.9" r="1.4"/><circle cx="140.8" cy="131.6" r="1.4"/><circle cx="160.7" cy="130.5" r="1.4"/><circle cx="117.7" cy="137.5" r="1.4"/><circle cx="325.5" cy="74.9" r="1.4"/><circle cx="199.4" cy="136.6" r="1.4"/><circle cx="298.8" cy="69.0" r="1.4"/><circle cx="204.4" cy="132.9" r="1.4"/><circle cx="100.3" cy="165.8" r="1.4"/><circle cx="386.9" cy="61.1" r="1.4"/><circle cx="173.1" cy="140.8" r="1.4"/><circle cx="112.2" cy="131.1" r="1.4"/><circle cx="144.4" cy="159.4" r="1.4"/><circle cx="276.2" cy="71.4" r="1.4"/><circle cx="235.2" cy="91.9" r="1.4"/><circle cx="302.3" cy="77.0" r="1.4"/><circle cx="170.5" cy="132.5" r="1.4"/><circle cx="103.4" cy="163.9" r="1.4"/><circle cx="275.8" cy="60.3" r="1.4"/><circle cx="393.4" cy="66.8" r="1.4"/><circle cx="174.5" cy="168.0" r="1.4"/><circle cx="317.3" cy="71.3" r="1.4"/><circle cx="125.2" cy="152.9" r="1.4"/><circle cx="93.7" cy="160.4" r="1.4"/><circle cx="165.9" cy="162.4" r="1.4"/><circle cx="349.2" cy="54.5" r="1.4"/><circle cx="269.4" cy="69.0" r="1.4"/><circle cx="94.8" cy="138.5" r="1.4"/><circle cx="303.9" cy="70.1" r="1.4"/><circle cx="323.8" cy="77.1" r="1.4"/><circle cx="110.4" cy="163.0" r="1.4"/><circle cx="377.3" cy="53.9" r="1.4"/><circle cx="213.3" cy="117.7" r="1.4"/><circle cx="75.3" cy="127.9" r="1.4"/><circle cx="128.8" cy="140.7" r="1.4"/><circle cx="264.1" cy="73.2" r="1.4"/><circle cx="333.0" cy="56.6" r="1.4"/><circle cx="156.2" cy="164.6" r="1.4"/><circle cx="200.0" cy="140.5" r="1.4"/><circle cx="208.1" cy="139.3" r="1.4"/><circle cx="397.2" cy="57.5" r="1.4"/><circle cx="58.8" cy="125.7" r="1.4"/><circle cx="366.4" cy="69.2" r="1.4"/><circle cx="192.4" cy="147.1" r="1.4"/><circle cx="377.5" cy="64.4" r="1.4"/><circle cx="399.0" cy="74.5" r="1.4"/><circle cx="399.8" cy="72.9" r="1.4"/><circle cx="140.0" cy="144.2" r="1.4"/><circle cx="61.6" cy="131.2" r="1.4"/><circle cx="126.1" cy="165.6" r="1.4"/><circle cx="151.8" cy="143.5" r="1.4"/><circle cx="352.9" cy="68.9" r="1.4"/><circle cx="130.7" cy="156.4" r="1.4"/><circle cx="358.8" cy="71.3" r="1.4"/><circle cx="286.8" cy="52.7" r="1.4"/><circle cx="326.0" cy="67.6" r="1.4"/><circle cx="273.8" cy="69.5" r="1.4"/><circle cx="88.0" cy="141.4" r="1.4"/><circle cx="142.5" cy="152.0" r="1.4"/><circle cx="309.0" cy="64.3" r="1.4"/><circle cx="154.0" cy="129.3" r="1.4"/><circle cx="362.0" cy="70.3" r="1.4"/><circle cx="358.3" cy="64.1" r="1.4"/><circle cx="397.7" cy="78.7" r="1.4"/><circle cx="305.5" cy="65.1" r="1.4"/><circle cx="95.6" cy="146.6" r="1.4"/><circle cx="65.8" cy="128.1" r="1.4"/><circle cx="293.6" cy="56.5" r="1.4"/><circle cx="114.6" cy="141.9" r="1.4"/><circle cx="57.9" cy="130.0" r="1.4"/><circle cx="264.0" cy="75.6" r="1.4"/><circle cx="74.2" cy="155.5" r="1.4"/><circle cx="289.9" cy="57.2" r="1.4"/><circle cx="387.4" cy="68.9" r="1.4"/><circle cx="264.4" cy="54.7" r="1.4"/><circle cx="66.3" cy="159.3" r="1.4"/><circle cx="95.4" cy="162.5" r="1.4"/><circle cx="351.2" cy="50.6" r="1.4"/><circle cx="163.8" cy="160.0" r="1.4"/><circle cx="114.3" cy="156.9" r="1.4"/><circle cx="177.2" cy="134.7" r="1.4"/><circle cx="82.2" cy="141.9" r="1.4"/><circle cx="221.0" cy="94.8" r="1.4"/><circle cx="180.6" cy="155.8" r="1.4"/><circle cx="75.1" cy="152.5" r="1.4"/><circle cx="325.9" cy="62.0" r="1.4"/><circle cx="258.7" cy="53.2" r="1.4"/><circle cx="284.5" cy="56.0" r="1.4"/><circle cx="68.8" cy="156.2" r="1.4"/><circle cx="247.5" cy="73.1" r="1.4"/><circle cx="144.4" cy="169.5" r="1.4"/><circle cx="295.1" cy="61.3" r="1.4"/><circle cx="211.9" cy="129.9" r="1.4"/><circle cx="323.5" cy="74.7" r="1.4"/><circle cx="347.6" cy="51.0" r="1.4"/><circle cx="244.4" cy="68.9" r="1.4"/><circle cx="111.6" cy="151.5" r="1.4"/><circle cx="356.8" cy="69.8" r="1.4"/><circle cx="64.5" cy="143.5" r="1.4"/><circle cx="148.1" cy="162.5" r="1.4"/><circle cx="304.5" cy="77.9" r="1.4"/><circle cx="310.0" cy="73.3" r="1.4"/><circle cx="103.1" cy="134.0" r="1.4"/><circle cx="235.1" cy="71.4" r="1.4"/><circle cx="146.5" cy="135.0" r="1.4"/><circle cx="171.5" cy="153.4" r="1.4"/><circle cx="68.8" cy="132.6" r="1.4"/><circle cx="136.9" cy="166.7" r="1.4"/><circle cx="87.0" cy="133.6" r="1.4"/><circle cx="105.6" cy="149.2" r="1.4"/><circle cx="230.6" cy="87.0" r="1.4"/><circle cx="173.9" cy="154.7" r="1.4"/><circle cx="71.3" cy="148.4" r="1.4"/><circle cx="366.6" cy="74.6" r="1.4"/><circle cx="101.8" cy="154.8" r="1.4"/><circle cx="64.6" cy="132.0" r="1.4"/><circle cx="153.8" cy="168.4" r="1.4"/><circle cx="297.3" cy="51.4" r="1.4"/><circle cx="397.8" cy="66.6" r="1.4"/><circle cx="66.7" cy="137.3" r="1.4"/><circle cx="386.9" cy="61.7" r="1.4"/><circle cx="371.8" cy="67.5" r="1.4"/><circle cx="313.5" cy="73.4" r="1.4"/><circle cx="270.1" cy="64.6" r="1.4"/><circle cx="396.2" cy="62.8" r="1.4"/><circle cx="57.7" cy="137.8" r="1.4"/><circle cx="136.0" cy="164.7" r="1.4"/><circle cx="245.7" cy="62.4" r="1.4"/><circle cx="229.4" cy="101.3" r="1.4"/><circle cx="190.6" cy="146.5" r="1.4"/><circle cx="117.2" cy="163.6" r="1.4"/><circle cx="237.7" cy="68.0" r="1.4"/><circle cx="64.8" cy="156.0" r="1.4"/><circle cx="143.6" cy="129.9" r="1.4"/><circle cx="321.7" cy="67.8" r="1.4"/><circle cx="193.5" cy="150.6" r="1.4"/><circle cx="147.9" cy="154.4" r="1.4"/><circle cx="283.3" cy="69.9" r="1.4"/><circle cx="367.4" cy="75.5" r="1.4"/><circle cx="155.1" cy="143.2" r="1.4"/><circle cx="83.0" cy="166.7" r="1.4"/><circle cx="143.1" cy="126.6" r="1.4"/><circle cx="102.3" cy="138.4" r="1.4"/><circle cx="182.8" cy="165.0" r="1.4"/><circle cx="215.2" cy="123.7" r="1.4"/><circle cx="156.2" cy="168.8" r="1.4"/><circle cx="57.4" cy="135.2" r="1.4"/><circle cx="248.4" cy="72.7" r="1.4"/><circle cx="86.0" cy="131.8" r="1.4"/><circle cx="297.6" cy="74.8" r="1.4"/><circle cx="242.3" cy="86.7" r="1.4"/><circle cx="389.1" cy="52.1" r="1.4"/><circle cx="141.1" cy="153.0" r="1.4"/><circle cx="123.9" cy="129.2" r="1.4"/><circle cx="377.7" cy="78.8" r="1.4"/><circle cx="67.0" cy="144.0" r="1.4"/><circle cx="177.9" cy="154.5" r="1.4"/><circle cx="63.0" cy="157.8" r="1.4"/><circle cx="182.4" cy="167.5" r="1.4"/><circle cx="384.0" cy="63.4" r="1.4"/><circle cx="133.7" cy="135.6" r="1.4"/><circle cx="244.6" cy="67.0" r="1.4"/><circle cx="107.9" cy="158.8" r="1.4"/><circle cx="341.3" cy="55.7" r="1.4"/><circle cx="170.2" cy="135.1" r="1.4"/><circle cx="186.3" cy="146.2" r="1.4"/><circle cx="242.7" cy="56.0" r="1.4"/><circle cx="89.9" cy="131.9" r="1.4"/><circle cx="325.7" cy="77.2" r="1.4"/><circle cx="132.3" cy="164.9" r="1.4"/><circle cx="393.9" cy="55.0" r="1.4"/></g><path d="M60.75 225.40v-2.40M60.75 1.10v2.40M81.80 225.40v-4.30M81.80 1.10v4.30M102.85 225.40v-2.40M102.85 1.10v2.40M123.90 225.40v-2.40M123.90 1.10v2.40M144.95 225.40v-2.40M144.95 1.10v2.40M166.00 225.40v-4.30M166.00 1.10v4.30M187.05 225.40v-2.40M187.05 1.10v2.40M208.10 225.40v-2.40M208.10 1.10v2.40M229.15 225.40v-2.40M229.15 1.10v2.40M250.20 225.40v-4.30M250.20 1.10v4.30M271.25 225.40v-2.40M271.25 1.10v2.40M292.30 225.40v-2.40M292.30 1.10v2.40M313.35 225.40v-2.40M313.35 1.10v2.40M334.40 225.40v-4.30M334.40 1.10v4.30M355.45 225.40v-2.40M355.45 1.10v2.40M376.50 225.40v-2.40M376.50 1.10v2.40M397.55 225.40v-2.40M397.55 1.10v2.40M48.25 223.18h2.40M411.25 223.18h-2.40M48.25 214.20h4.30M411.25 214.20h-4.30M48.25 205.22h2.40M411.25 205.22h-2.40M48.25 196.24h2.40M411.25 196.24h-2.40M48.25 187.26h2.40M411.25 187.26h-2.40M48.25 178.28h2.40M411.25 178.28h-2.40M48.25 169.30h4.30M411.25 169.30h-4.30M48.25 160.32h2.40M411.25 160.32h-2.40M48.25 151.34h2.40M411.25 151.34h-2.40M48.25 142.36h2.40M411.25 142.36h-2.40M48.25 133.38h2.40M411.25 133.38h-2.40M48.25 124.40h4.30M411.25 124.40h-4.30M48.25 115.42h2.40M411.25 115.42h-2.40M48.25 106.44h2.40M411.25 106.44h-2.40M48.25 97.46h2.40M411.25 97.46h-2.40M48.25 88.48h2.40M411.25 88.48h-2.40M48.25 79.50h4.30M411.25 79.50h-4.30M48.25 70.52h2.40M411.25 70.52h-2.40M48.25 61.54h2.40M411.25 61.54h-2.40M48.25 52.56h2.40M411.25 52.56h-2.40M48.25 43.58h2.40M411.25 43.58h-2.40M48.25 34.60h4.30M411.25 34.60h-4.30M48.25 25.62h2.40M411.25 25.62h-2.40M48.25 16.64h2.40M411.25 16.64h-2.40M48.25 7.66h2.40M411.25 7.66h-2.40" stroke="#000" stroke-width="1.90" fill="none"/><rect x="48.25" y="1.10" width="363.00" height="224.30" fill="none" stroke="#000" stroke-width="1.3"/><text x="81.80" y="241.5" text-anchor="middle" font-size="13.2">0.8</text><text x="166.00" y="241.5" text-anchor="middle" font-size="13.2">1.0</text><text x="250.20" y="241.5" text-anchor="middle" font-size="13.2">1.2</text><text x="334.40" y="241.5" text-anchor="middle" font-size="13.2">1.4</text><text x="44.15" y="218.95" text-anchor="end" font-size="13.2">0.93</text><text x="44.15" y="174.05" text-anchor="end" font-size="13.2">0.94</text><text x="44.15" y="129.15" text-anchor="end" font-size="13.2">0.95</text><text x="44.15" y="84.25" text-anchor="end" font-size="13.2">0.96</text><text x="44.15" y="39.35" text-anchor="end" font-size="13.2">0.97</text><text transform="translate(8.6 119.9) rotate(-90)" font-style="italic">n<tspan font-size="9.6" font-style="normal" dy="2.2">s</tspan></text><g font-size="13.5"><text x="171.95" y="267.80">log</text><text x="190.70" y="267.80">(</text><text x="195.80" y="267.80" font-style="italic" font-size="13.9">λ</text><text x="203.10" y="267.80">)</text><text x="207.60" y="267.80">/</text><text x="211.10" y="267.80">log</text><text transform="translate(229.00 270.70) scale(0.88 1.95)" font-size="13.5">(</text><text x="233.50" y="267.80" font-style="italic" font-size="14">m</text><text x="245.10" y="261.80" font-size="10">2</text><text x="251.50" y="267.80" font-style="italic">/</text><text x="255.50" y="267.80" font-style="italic" font-size="14">M</text><text x="266.70" y="270.50" font-size="10">pl</text><text x="275.50" y="261.50" font-size="10">2</text><text transform="translate(282.90 270.70) scale(0.88 1.95)" font-size="13.5">)</text></g><path d="M472.80 62.10H823.20" stroke="#FF7F00" stroke-width="1.5" stroke-dasharray="6.1 3.02" fill="none"/><path d="M472.80 91.75H823.20" stroke="#FF7F00" stroke-width="1.5" stroke-dasharray="6.1 3.02" fill="none"/><path d="M472.80 151.50H823.20" stroke="#4DAF4A" stroke-width="1.5" stroke-dasharray="6.1 3.02" fill="none"/><path d="M472.80 166.80H823.20" stroke="#4DAF4A" stroke-width="1.5" stroke-dasharray="6.1 3.02" fill="none"/><g fill="#377EB8"><circle cx="628.5" cy="66.7" r="1.4"/><circle cx="622.6" cy="61.3" r="1.4"/><circle cx="617.5" cy="57.3" r="1.4"/><circle cx="613.1" cy="54.3" r="1.4"/><circle cx="608.3" cy="51.7" r="1.4"/><circle cx="604.7" cy="50.6" r="1.4"/><circle cx="600.8" cy="50.2" r="1.4"/><circle cx="596.0" cy="55.9" r="1.4"/><circle cx="767.3" cy="161.2" r="1.4"/><circle cx="608.6" cy="53.0" r="1.4"/><circle cx="658.0" cy="133.6" r="1.4"/><circle cx="515.4" cy="72.1" r="1.4"/><circle cx="653.1" cy="122.9" r="1.4"/><circle cx="620.0" cy="73.1" r="1.4"/><circle cx="586.9" cy="76.6" r="1.4"/><circle cx="785.0" cy="150.9" r="1.4"/><circle cx="635.9" cy="93.6" r="1.4"/><circle cx="757.9" cy="159.7" r="1.4"/><circle cx="763.0" cy="164.5" r="1.4"/><circle cx="600.3" cy="61.4" r="1.4"/><circle cx="724.4" cy="158.1" r="1.4"/><circle cx="727.6" cy="151.1" r="1.4"/><circle cx="552.1" cy="72.0" r="1.4"/><circle cx="755.1" cy="162.3" r="1.4"/><circle cx="588.6" cy="77.8" r="1.4"/><circle cx="676.9" cy="139.9" r="1.4"/><circle cx="729.8" cy="159.7" r="1.4"/><circle cx="751.6" cy="153.3" r="1.4"/><circle cx="602.4" cy="59.7" r="1.4"/><circle cx="744.2" cy="156.6" r="1.4"/><circle cx="506.3" cy="88.7" r="1.4"/><circle cx="673.6" cy="136.8" r="1.4"/><circle cx="794.5" cy="162.7" r="1.4"/><circle cx="628.9" cy="92.5" r="1.4"/><circle cx="662.8" cy="130.8" r="1.4"/><circle cx="697.4" cy="157.5" r="1.4"/><circle cx="816.7" cy="158.9" r="1.4"/><circle cx="565.7" cy="61.3" r="1.4"/><circle cx="567.2" cy="76.0" r="1.4"/><circle cx="482.7" cy="78.5" r="1.4"/><circle cx="568.8" cy="78.7" r="1.4"/><circle cx="782.6" cy="158.6" r="1.4"/><circle cx="597.4" cy="70.4" r="1.4"/><circle cx="686.9" cy="148.9" r="1.4"/><circle cx="703.7" cy="162.1" r="1.4"/><circle cx="512.5" cy="75.5" r="1.4"/><circle cx="611.0" cy="70.2" r="1.4"/><circle cx="737.9" cy="156.6" r="1.4"/><circle cx="680.7" cy="152.5" r="1.4"/><circle cx="554.7" cy="79.4" r="1.4"/><circle cx="545.3" cy="70.3" r="1.4"/><circle cx="488.6" cy="62.9" r="1.4"/><circle cx="728.9" cy="151.8" r="1.4"/><circle cx="691.8" cy="150.0" r="1.4"/><circle cx="678.5" cy="146.8" r="1.4"/><circle cx="573.6" cy="64.0" r="1.4"/><circle cx="692.4" cy="157.5" r="1.4"/><circle cx="506.7" cy="78.8" r="1.4"/><circle cx="544.9" cy="64.2" r="1.4"/><circle cx="499.1" cy="75.6" r="1.4"/><circle cx="729.6" cy="159.4" r="1.4"/><circle cx="485.2" cy="87.8" r="1.4"/><circle cx="749.6" cy="154.6" r="1.4"/><circle cx="477.0" cy="63.2" r="1.4"/><circle cx="701.3" cy="159.5" r="1.4"/><circle cx="497.3" cy="67.3" r="1.4"/><circle cx="620.3" cy="73.2" r="1.4"/><circle cx="536.5" cy="74.7" r="1.4"/><circle cx="798.7" cy="166.1" r="1.4"/><circle cx="683.8" cy="148.5" r="1.4"/><circle cx="802.1" cy="161.4" r="1.4"/><circle cx="625.0" cy="81.0" r="1.4"/><circle cx="522.3" cy="69.6" r="1.4"/><circle cx="790.1" cy="156.1" r="1.4"/><circle cx="663.3" cy="132.3" r="1.4"/><circle cx="673.7" cy="143.3" r="1.4"/><circle cx="654.3" cy="120.8" r="1.4"/><circle cx="722.2" cy="151.5" r="1.4"/><circle cx="652.3" cy="120.7" r="1.4"/><circle cx="578.7" cy="66.1" r="1.4"/><circle cx="811.4" cy="164.4" r="1.4"/><circle cx="710.2" cy="149.1" r="1.4"/><circle cx="727.2" cy="151.7" r="1.4"/><circle cx="511.2" cy="81.3" r="1.4"/><circle cx="590.8" cy="63.1" r="1.4"/><circle cx="817.8" cy="153.1" r="1.4"/><circle cx="511.2" cy="87.1" r="1.4"/><circle cx="741.6" cy="165.7" r="1.4"/><circle cx="591.5" cy="58.8" r="1.4"/><circle cx="496.8" cy="84.6" r="1.4"/><circle cx="608.1" cy="62.5" r="1.4"/><circle cx="525.6" cy="72.0" r="1.4"/><circle cx="536.3" cy="64.8" r="1.4"/><circle cx="514.7" cy="63.3" r="1.4"/><circle cx="503.4" cy="84.8" r="1.4"/><circle cx="762.3" cy="152.3" r="1.4"/><circle cx="679.3" cy="147.7" r="1.4"/><circle cx="786.1" cy="157.7" r="1.4"/><circle cx="713.8" cy="155.5" r="1.4"/><circle cx="489.8" cy="85.3" r="1.4"/><circle cx="654.5" cy="119.5" r="1.4"/><circle cx="632.4" cy="92.6" r="1.4"/><circle cx="659.6" cy="126.1" r="1.4"/><circle cx="694.5" cy="150.3" r="1.4"/><circle cx="585.8" cy="75.3" r="1.4"/><circle cx="593.4" cy="59.3" r="1.4"/><circle cx="711.7" cy="163.8" r="1.4"/><circle cx="561.5" cy="62.8" r="1.4"/><circle cx="822.2" cy="159.5" r="1.4"/><circle cx="495.2" cy="76.3" r="1.4"/><circle cx="702.9" cy="152.3" r="1.4"/><circle cx="807.3" cy="151.9" r="1.4"/><circle cx="808.6" cy="158.4" r="1.4"/><circle cx="793.1" cy="153.8" r="1.4"/><circle cx="634.2" cy="90.3" r="1.4"/><circle cx="487.2" cy="87.6" r="1.4"/><circle cx="521.0" cy="60.3" r="1.4"/><circle cx="552.0" cy="71.2" r="1.4"/><circle cx="496.9" cy="73.7" r="1.4"/><circle cx="524.4" cy="66.9" r="1.4"/><circle cx="624.2" cy="73.5" r="1.4"/><circle cx="748.5" cy="153.8" r="1.4"/><circle cx="542.5" cy="74.0" r="1.4"/><circle cx="624.2" cy="72.4" r="1.4"/><circle cx="506.2" cy="63.5" r="1.4"/><circle cx="750.4" cy="151.1" r="1.4"/><circle cx="656.7" cy="129.3" r="1.4"/><circle cx="502.6" cy="83.2" r="1.4"/><circle cx="722.0" cy="164.0" r="1.4"/><circle cx="807.5" cy="153.7" r="1.4"/><circle cx="577.3" cy="63.0" r="1.4"/><circle cx="704.3" cy="148.3" r="1.4"/><circle cx="495.8" cy="70.4" r="1.4"/><circle cx="685.1" cy="156.1" r="1.4"/><circle cx="706.1" cy="149.9" r="1.4"/><circle cx="514.5" cy="76.6" r="1.4"/><circle cx="703.9" cy="163.0" r="1.4"/><circle cx="505.0" cy="75.4" r="1.4"/><circle cx="709.9" cy="160.3" r="1.4"/><circle cx="655.6" cy="124.8" r="1.4"/><circle cx="774.2" cy="157.6" r="1.4"/><circle cx="814.5" cy="160.8" r="1.4"/><circle cx="526.1" cy="66.1" r="1.4"/><circle cx="533.6" cy="75.2" r="1.4"/><circle cx="740.6" cy="153.7" r="1.4"/><circle cx="813.0" cy="160.7" r="1.4"/><circle cx="818.7" cy="161.5" r="1.4"/><circle cx="688.5" cy="145.9" r="1.4"/><circle cx="506.5" cy="74.0" r="1.4"/><circle cx="611.0" cy="62.2" r="1.4"/><circle cx="596.5" cy="64.1" r="1.4"/><circle cx="481.2" cy="73.5" r="1.4"/><circle cx="525.8" cy="61.5" r="1.4"/><circle cx="758.3" cy="159.5" r="1.4"/><circle cx="723.8" cy="151.9" r="1.4"/><circle cx="484.2" cy="65.5" r="1.4"/><circle cx="496.2" cy="81.2" r="1.4"/><circle cx="643.4" cy="111.3" r="1.4"/><circle cx="509.6" cy="70.3" r="1.4"/><circle cx="648.6" cy="115.3" r="1.4"/><circle cx="768.7" cy="164.1" r="1.4"/><circle cx="693.1" cy="157.0" r="1.4"/><circle cx="598.6" cy="70.0" r="1.4"/><circle cx="731.2" cy="156.9" r="1.4"/><circle cx="700.9" cy="154.1" r="1.4"/><circle cx="547.7" cy="64.1" r="1.4"/><circle cx="673.3" cy="141.4" r="1.4"/><circle cx="669.0" cy="140.7" r="1.4"/><circle cx="658.4" cy="131.0" r="1.4"/><circle cx="551.0" cy="83.0" r="1.4"/><circle cx="660.6" cy="135.9" r="1.4"/><circle cx="746.7" cy="151.9" r="1.4"/><circle cx="552.8" cy="73.1" r="1.4"/><circle cx="531.6" cy="82.1" r="1.4"/><circle cx="731.0" cy="162.5" r="1.4"/><circle cx="779.3" cy="163.9" r="1.4"/><circle cx="604.4" cy="48.0" r="1.4"/><circle cx="533.5" cy="64.5" r="1.4"/><circle cx="816.1" cy="155.8" r="1.4"/><circle cx="807.2" cy="152.4" r="1.4"/><circle cx="726.5" cy="156.1" r="1.4"/><circle cx="499.4" cy="85.4" r="1.4"/><circle cx="560.7" cy="82.7" r="1.4"/><circle cx="504.1" cy="66.1" r="1.4"/><circle cx="810.7" cy="152.5" r="1.4"/><circle cx="673.8" cy="139.1" r="1.4"/><circle cx="587.5" cy="65.8" r="1.4"/><circle cx="708.0" cy="158.4" r="1.4"/><circle cx="680.7" cy="149.7" r="1.4"/><circle cx="539.0" cy="77.8" r="1.4"/><circle cx="478.9" cy="76.1" r="1.4"/><circle cx="525.0" cy="71.5" r="1.4"/><circle cx="652.5" cy="117.2" r="1.4"/><circle cx="520.0" cy="70.8" r="1.4"/><circle cx="573.0" cy="75.2" r="1.4"/><circle cx="596.8" cy="75.5" r="1.4"/><circle cx="815.6" cy="162.9" r="1.4"/><circle cx="572.9" cy="66.5" r="1.4"/><circle cx="749.0" cy="152.5" r="1.4"/><circle cx="777.6" cy="161.4" r="1.4"/><circle cx="792.0" cy="161.3" r="1.4"/><circle cx="580.8" cy="81.2" r="1.4"/><circle cx="674.9" cy="140.2" r="1.4"/><circle cx="801.0" cy="156.7" r="1.4"/><circle cx="614.5" cy="59.2" r="1.4"/><circle cx="554.4" cy="61.5" r="1.4"/><circle cx="802.6" cy="150.9" r="1.4"/><circle cx="559.3" cy="78.6" r="1.4"/><circle cx="698.6" cy="150.5" r="1.4"/><circle cx="496.2" cy="60.0" r="1.4"/><circle cx="770.6" cy="164.1" r="1.4"/><circle cx="673.9" cy="151.4" r="1.4"/><circle cx="545.9" cy="81.8" r="1.4"/><circle cx="727.7" cy="156.2" r="1.4"/><circle cx="491.2" cy="78.8" r="1.4"/><circle cx="810.6" cy="153.5" r="1.4"/><circle cx="623.4" cy="80.1" r="1.4"/><circle cx="708.4" cy="149.5" r="1.4"/><circle cx="729.0" cy="151.9" r="1.4"/><circle cx="705.8" cy="163.2" r="1.4"/><circle cx="710.4" cy="153.5" r="1.4"/><circle cx="719.9" cy="150.6" r="1.4"/><circle cx="722.5" cy="163.1" r="1.4"/><circle cx="591.2" cy="71.5" r="1.4"/><circle cx="577.7" cy="69.5" r="1.4"/><circle cx="774.6" cy="161.7" r="1.4"/><circle cx="548.9" cy="69.3" r="1.4"/><circle cx="685.9" cy="157.7" r="1.4"/><circle cx="779.2" cy="166.2" r="1.4"/><circle cx="550.1" cy="77.5" r="1.4"/><circle cx="785.2" cy="157.7" r="1.4"/><circle cx="545.9" cy="66.0" r="1.4"/><circle cx="573.5" cy="80.1" r="1.4"/><circle cx="511.1" cy="62.8" r="1.4"/><circle cx="582.4" cy="61.9" r="1.4"/><circle cx="711.7" cy="164.4" r="1.4"/><circle cx="735.5" cy="163.8" r="1.4"/><circle cx="710.9" cy="159.7" r="1.4"/><circle cx="574.0" cy="64.6" r="1.4"/><circle cx="582.7" cy="80.1" r="1.4"/><circle cx="806.7" cy="153.6" r="1.4"/><circle cx="517.1" cy="62.3" r="1.4"/><circle cx="710.2" cy="153.4" r="1.4"/><circle cx="517.5" cy="66.9" r="1.4"/><circle cx="681.0" cy="154.8" r="1.4"/><circle cx="789.4" cy="162.3" r="1.4"/><circle cx="735.1" cy="161.3" r="1.4"/><circle cx="707.8" cy="152.7" r="1.4"/><circle cx="714.4" cy="152.6" r="1.4"/><circle cx="595.8" cy="64.3" r="1.4"/><circle cx="577.6" cy="65.9" r="1.4"/><circle cx="545.2" cy="73.9" r="1.4"/><circle cx="718.2" cy="164.6" r="1.4"/><circle cx="516.1" cy="69.6" r="1.4"/><circle cx="586.5" cy="63.7" r="1.4"/><circle cx="721.0" cy="157.1" r="1.4"/><circle cx="558.5" cy="64.2" r="1.4"/><circle cx="504.8" cy="70.6" r="1.4"/><circle cx="533.2" cy="88.3" r="1.4"/><circle cx="755.6" cy="154.2" r="1.4"/><circle cx="499.6" cy="85.8" r="1.4"/><circle cx="760.1" cy="166.3" r="1.4"/><circle cx="641.5" cy="105.4" r="1.4"/><circle cx="709.0" cy="152.2" r="1.4"/><circle cx="515.0" cy="85.2" r="1.4"/><circle cx="547.0" cy="71.5" r="1.4"/><circle cx="713.0" cy="156.3" r="1.4"/><circle cx="803.6" cy="157.8" r="1.4"/><circle cx="558.6" cy="75.9" r="1.4"/><circle cx="756.5" cy="156.8" r="1.4"/><circle cx="605.6" cy="74.5" r="1.4"/><circle cx="493.9" cy="83.0" r="1.4"/><circle cx="517.0" cy="78.5" r="1.4"/><circle cx="587.8" cy="60.9" r="1.4"/><circle cx="707.8" cy="158.4" r="1.4"/><circle cx="532.2" cy="62.6" r="1.4"/><circle cx="479.6" cy="69.2" r="1.4"/><circle cx="691.4" cy="152.2" r="1.4"/><circle cx="809.8" cy="162.3" r="1.4"/><circle cx="811.6" cy="164.1" r="1.4"/><circle cx="479.2" cy="62.0" r="1.4"/><circle cx="680.6" cy="150.0" r="1.4"/><circle cx="703.8" cy="153.5" r="1.4"/><circle cx="736.0" cy="165.8" r="1.4"/><circle cx="578.5" cy="79.4" r="1.4"/><circle cx="732.0" cy="153.0" r="1.4"/><circle cx="822.4" cy="154.0" r="1.4"/><circle cx="703.7" cy="151.8" r="1.4"/><circle cx="654.7" cy="129.6" r="1.4"/><circle cx="587.5" cy="63.4" r="1.4"/><circle cx="783.7" cy="154.9" r="1.4"/><circle cx="510.9" cy="64.0" r="1.4"/><circle cx="772.9" cy="155.7" r="1.4"/><circle cx="780.7" cy="164.1" r="1.4"/><circle cx="757.9" cy="152.8" r="1.4"/><circle cx="567.7" cy="82.0" r="1.4"/><circle cx="495.5" cy="83.7" r="1.4"/><circle cx="728.9" cy="150.6" r="1.4"/><circle cx="706.7" cy="163.4" r="1.4"/><circle cx="679.2" cy="142.1" r="1.4"/><circle cx="540.9" cy="66.3" r="1.4"/><circle cx="694.3" cy="148.6" r="1.4"/><circle cx="805.3" cy="163.2" r="1.4"/><circle cx="740.4" cy="162.0" r="1.4"/><circle cx="794.5" cy="166.3" r="1.4"/><circle cx="636.3" cy="82.7" r="1.4"/><circle cx="635.1" cy="85.8" r="1.4"/><circle cx="475.3" cy="63.3" r="1.4"/><circle cx="478.3" cy="85.6" r="1.4"/><circle cx="538.6" cy="83.9" r="1.4"/><circle cx="584.1" cy="73.0" r="1.4"/><circle cx="551.8" cy="68.1" r="1.4"/><circle cx="480.1" cy="88.8" r="1.4"/><circle cx="536.0" cy="71.0" r="1.4"/><circle cx="480.8" cy="66.3" r="1.4"/><circle cx="697.7" cy="162.7" r="1.4"/><circle cx="764.0" cy="152.4" r="1.4"/><circle cx="814.1" cy="154.7" r="1.4"/><circle cx="534.3" cy="84.8" r="1.4"/><circle cx="488.2" cy="84.1" r="1.4"/><circle cx="688.6" cy="150.7" r="1.4"/><circle cx="666.7" cy="145.7" r="1.4"/><circle cx="795.7" cy="153.0" r="1.4"/><circle cx="732.0" cy="151.6" r="1.4"/><circle cx="632.6" cy="85.6" r="1.4"/><circle cx="555.2" cy="79.9" r="1.4"/><circle cx="747.7" cy="162.9" r="1.4"/><circle cx="546.8" cy="82.4" r="1.4"/><circle cx="810.1" cy="153.9" r="1.4"/><circle cx="516.6" cy="81.7" r="1.4"/><circle cx="800.0" cy="152.6" r="1.4"/><circle cx="724.7" cy="155.6" r="1.4"/><circle cx="747.3" cy="151.5" r="1.4"/><circle cx="505.5" cy="75.1" r="1.4"/><circle cx="522.7" cy="87.4" r="1.4"/><circle cx="712.4" cy="152.0" r="1.4"/><circle cx="755.8" cy="160.0" r="1.4"/><circle cx="605.3" cy="80.0" r="1.4"/><circle cx="715.1" cy="160.2" r="1.4"/><circle cx="798.8" cy="162.2" r="1.4"/><circle cx="796.0" cy="153.4" r="1.4"/><circle cx="683.0" cy="152.5" r="1.4"/><circle cx="498.7" cy="81.9" r="1.4"/><circle cx="509.4" cy="87.9" r="1.4"/><circle cx="703.0" cy="156.3" r="1.4"/><circle cx="679.4" cy="150.0" r="1.4"/><circle cx="696.2" cy="162.0" r="1.4"/><circle cx="742.7" cy="160.7" r="1.4"/><circle cx="661.9" cy="131.7" r="1.4"/><circle cx="813.7" cy="165.4" r="1.4"/><circle cx="666.4" cy="133.3" r="1.4"/><circle cx="571.9" cy="76.4" r="1.4"/><circle cx="719.2" cy="150.7" r="1.4"/><circle cx="521.3" cy="67.2" r="1.4"/><circle cx="786.8" cy="156.6" r="1.4"/><circle cx="795.7" cy="160.8" r="1.4"/><circle cx="805.2" cy="165.6" r="1.4"/><circle cx="484.2" cy="67.8" r="1.4"/><circle cx="484.7" cy="62.4" r="1.4"/><circle cx="691.0" cy="147.9" r="1.4"/><circle cx="595.4" cy="55.8" r="1.4"/><circle cx="543.9" cy="76.0" r="1.4"/><circle cx="815.7" cy="155.1" r="1.4"/><circle cx="639.2" cy="96.7" r="1.4"/><circle cx="678.1" cy="145.8" r="1.4"/><circle cx="618.6" cy="59.6" r="1.4"/><circle cx="604.9" cy="55.1" r="1.4"/><circle cx="494.4" cy="74.6" r="1.4"/><circle cx="659.0" cy="126.9" r="1.4"/><circle cx="783.6" cy="154.3" r="1.4"/><circle cx="821.2" cy="165.3" r="1.4"/><circle cx="705.5" cy="159.2" r="1.4"/><circle cx="797.9" cy="154.1" r="1.4"/><circle cx="787.8" cy="162.2" r="1.4"/><circle cx="580.1" cy="58.5" r="1.4"/><circle cx="610.9" cy="76.3" r="1.4"/><circle cx="658.3" cy="126.3" r="1.4"/><circle cx="778.5" cy="159.9" r="1.4"/><circle cx="489.4" cy="60.3" r="1.4"/><circle cx="682.6" cy="145.4" r="1.4"/><circle cx="765.9" cy="153.3" r="1.4"/><circle cx="519.1" cy="77.1" r="1.4"/><circle cx="643.9" cy="107.4" r="1.4"/><circle cx="712.8" cy="158.8" r="1.4"/><circle cx="543.8" cy="86.9" r="1.4"/><circle cx="663.0" cy="130.3" r="1.4"/><circle cx="532.0" cy="83.1" r="1.4"/><circle cx="690.0" cy="154.0" r="1.4"/><circle cx="643.5" cy="109.5" r="1.4"/><circle cx="595.2" cy="58.4" r="1.4"/><circle cx="760.4" cy="159.3" r="1.4"/><circle cx="708.3" cy="158.8" r="1.4"/><circle cx="785.4" cy="156.1" r="1.4"/><circle cx="737.5" cy="154.2" r="1.4"/><circle cx="798.8" cy="151.4" r="1.4"/><circle cx="678.1" cy="151.2" r="1.4"/><circle cx="621.3" cy="60.9" r="1.4"/><circle cx="740.4" cy="162.7" r="1.4"/><circle cx="751.6" cy="151.6" r="1.4"/><circle cx="719.8" cy="154.0" r="1.4"/><circle cx="476.1" cy="61.7" r="1.4"/><circle cx="769.9" cy="164.7" r="1.4"/><circle cx="571.3" cy="78.6" r="1.4"/><circle cx="652.9" cy="118.9" r="1.4"/><circle cx="584.2" cy="71.2" r="1.4"/><circle cx="706.6" cy="148.9" r="1.4"/><circle cx="551.1" cy="61.1" r="1.4"/><circle cx="509.1" cy="74.2" r="1.4"/><circle cx="656.7" cy="121.3" r="1.4"/><circle cx="489.1" cy="68.8" r="1.4"/><circle cx="474.0" cy="61.8" r="1.4"/><circle cx="523.5" cy="75.3" r="1.4"/><circle cx="719.9" cy="153.3" r="1.4"/><circle cx="659.0" cy="126.3" r="1.4"/><circle cx="488.7" cy="76.4" r="1.4"/><circle cx="599.9" cy="67.6" r="1.4"/><circle cx="642.6" cy="98.2" r="1.4"/><circle cx="538.6" cy="60.4" r="1.4"/><circle cx="675.0" cy="138.2" r="1.4"/><circle cx="626.1" cy="87.1" r="1.4"/><circle cx="717.2" cy="152.8" r="1.4"/><circle cx="589.8" cy="63.5" r="1.4"/><circle cx="765.4" cy="153.1" r="1.4"/><circle cx="819.1" cy="165.1" r="1.4"/><circle cx="502.8" cy="64.5" r="1.4"/><circle cx="799.8" cy="152.9" r="1.4"/><circle cx="501.8" cy="84.3" r="1.4"/><circle cx="562.2" cy="74.5" r="1.4"/><circle cx="728.9" cy="163.3" r="1.4"/><circle cx="678.4" cy="147.0" r="1.4"/><circle cx="551.8" cy="67.0" r="1.4"/><circle cx="733.0" cy="153.5" r="1.4"/><circle cx="700.6" cy="162.0" r="1.4"/><circle cx="630.0" cy="76.6" r="1.4"/><circle cx="573.5" cy="81.9" r="1.4"/><circle cx="586.6" cy="61.5" r="1.4"/><circle cx="540.0" cy="71.8" r="1.4"/><circle cx="698.3" cy="148.0" r="1.4"/><circle cx="815.0" cy="166.1" r="1.4"/><circle cx="701.6" cy="156.6" r="1.4"/><circle cx="522.8" cy="67.3" r="1.4"/><circle cx="668.5" cy="137.6" r="1.4"/><circle cx="712.1" cy="154.6" r="1.4"/><circle cx="488.8" cy="80.0" r="1.4"/><circle cx="775.2" cy="166.0" r="1.4"/><circle cx="475.6" cy="85.9" r="1.4"/><circle cx="747.7" cy="153.8" r="1.4"/><circle cx="568.5" cy="74.6" r="1.4"/><circle cx="761.0" cy="156.8" r="1.4"/><circle cx="807.0" cy="163.4" r="1.4"/><circle cx="817.8" cy="151.2" r="1.4"/><circle cx="691.1" cy="145.6" r="1.4"/><circle cx="545.4" cy="82.6" r="1.4"/></g><g fill="#E41A1C"><circle cx="561.5" cy="78.8" r="1.4"/><circle cx="543.6" cy="82.7" r="1.4"/><circle cx="495.9" cy="80.0" r="1.4"/><circle cx="478.9" cy="77.7" r="1.4"/><circle cx="735.5" cy="157.8" r="1.4"/><circle cx="653.4" cy="114.7" r="1.4"/><circle cx="557.3" cy="77.0" r="1.4"/><circle cx="747.0" cy="153.7" r="1.4"/><circle cx="718.7" cy="156.3" r="1.4"/><circle cx="581.0" cy="75.1" r="1.4"/><circle cx="561.2" cy="77.9" r="1.4"/><circle cx="736.1" cy="164.0" r="1.4"/><circle cx="499.9" cy="72.8" r="1.4"/><circle cx="717.3" cy="153.9" r="1.4"/><circle cx="486.7" cy="68.1" r="1.4"/><circle cx="615.0" cy="67.1" r="1.4"/><circle cx="608.3" cy="66.3" r="1.4"/><circle cx="739.9" cy="165.6" r="1.4"/><circle cx="682.6" cy="153.8" r="1.4"/><circle cx="523.4" cy="64.0" r="1.4"/><circle cx="636.4" cy="83.8" r="1.4"/><circle cx="755.3" cy="159.0" r="1.4"/><circle cx="785.7" cy="163.5" r="1.4"/><circle cx="762.8" cy="165.4" r="1.4"/><circle cx="603.5" cy="75.7" r="1.4"/><circle cx="645.5" cy="109.1" r="1.4"/><circle cx="680.5" cy="146.9" r="1.4"/><circle cx="677.8" cy="142.7" r="1.4"/><circle cx="665.5" cy="134.8" r="1.4"/><circle cx="582.2" cy="60.2" r="1.4"/><circle cx="487.2" cy="70.4" r="1.4"/><circle cx="486.5" cy="74.7" r="1.4"/><circle cx="796.1" cy="162.7" r="1.4"/><circle cx="506.4" cy="76.6" r="1.4"/><circle cx="638.6" cy="90.9" r="1.4"/><circle cx="714.5" cy="159.3" r="1.4"/><circle cx="554.8" cy="62.7" r="1.4"/><circle cx="526.4" cy="84.2" r="1.4"/><circle cx="813.0" cy="163.2" r="1.4"/><circle cx="714.7" cy="156.9" r="1.4"/><circle cx="643.9" cy="96.1" r="1.4"/><circle cx="579.9" cy="82.6" r="1.4"/><circle cx="649.3" cy="113.9" r="1.4"/><circle cx="542.8" cy="85.0" r="1.4"/><circle cx="493.6" cy="88.9" r="1.4"/><circle cx="694.4" cy="150.6" r="1.4"/><circle cx="691.2" cy="159.9" r="1.4"/><circle cx="525.1" cy="82.6" r="1.4"/><circle cx="734.5" cy="162.9" r="1.4"/><circle cx="576.7" cy="80.5" r="1.4"/><circle cx="787.5" cy="163.5" r="1.4"/><circle cx="675.9" cy="152.3" r="1.4"/><circle cx="819.7" cy="164.0" r="1.4"/><circle cx="547.3" cy="66.0" r="1.4"/><circle cx="606.3" cy="56.9" r="1.4"/><circle cx="486.8" cy="71.9" r="1.4"/><circle cx="702.0" cy="149.9" r="1.4"/><circle cx="498.6" cy="85.0" r="1.4"/><circle cx="812.4" cy="155.8" r="1.4"/><circle cx="474.9" cy="82.4" r="1.4"/><circle cx="529.6" cy="76.0" r="1.4"/><circle cx="696.3" cy="151.6" r="1.4"/><circle cx="701.0" cy="150.8" r="1.4"/><circle cx="645.5" cy="112.4" r="1.4"/><circle cx="607.0" cy="59.5" r="1.4"/><circle cx="596.1" cy="76.1" r="1.4"/><circle cx="478.8" cy="65.0" r="1.4"/><circle cx="631.9" cy="77.7" r="1.4"/><circle cx="624.9" cy="68.4" r="1.4"/><circle cx="586.8" cy="78.0" r="1.4"/><circle cx="813.1" cy="157.8" r="1.4"/><circle cx="581.2" cy="59.6" r="1.4"/><circle cx="744.0" cy="159.5" r="1.4"/><circle cx="717.8" cy="158.5" r="1.4"/><circle cx="637.5" cy="93.9" r="1.4"/><circle cx="726.6" cy="151.7" r="1.4"/><circle cx="603.0" cy="65.1" r="1.4"/><circle cx="529.0" cy="65.2" r="1.4"/><circle cx="774.0" cy="163.9" r="1.4"/><circle cx="653.5" cy="124.0" r="1.4"/><circle cx="558.9" cy="68.7" r="1.4"/><circle cx="616.8" cy="78.3" r="1.4"/><circle cx="716.7" cy="161.4" r="1.4"/><circle cx="508.8" cy="79.7" r="1.4"/><circle cx="598.8" cy="57.8" r="1.4"/><circle cx="732.3" cy="163.2" r="1.4"/><circle cx="792.3" cy="162.5" r="1.4"/><circle cx="583.4" cy="68.9" r="1.4"/><circle cx="473.6" cy="73.5" r="1.4"/><circle cx="572.2" cy="81.2" r="1.4"/><circle cx="662.5" cy="143.2" r="1.4"/><circle cx="552.9" cy="67.0" r="1.4"/><circle cx="816.3" cy="162.1" r="1.4"/><circle cx="721.9" cy="157.3" r="1.4"/><circle cx="768.0" cy="163.2" r="1.4"/><circle cx="772.5" cy="158.8" r="1.4"/><circle cx="596.7" cy="70.4" r="1.4"/><circle cx="586.2" cy="75.4" r="1.4"/><circle cx="641.3" cy="98.8" r="1.4"/><circle cx="521.0" cy="88.9" r="1.4"/><circle cx="676.6" cy="154.1" r="1.4"/><circle cx="749.3" cy="159.5" r="1.4"/><circle cx="796.6" cy="156.8" r="1.4"/><circle cx="609.6" cy="78.3" r="1.4"/><circle cx="779.8" cy="162.7" r="1.4"/><circle cx="600.7" cy="73.2" r="1.4"/><circle cx="813.9" cy="159.2" r="1.4"/><circle cx="526.9" cy="76.7" r="1.4"/><circle cx="822.1" cy="155.2" r="1.4"/><circle cx="606.0" cy="55.0" r="1.4"/><circle cx="516.1" cy="76.2" r="1.4"/><circle cx="497.0" cy="76.4" r="1.4"/><circle cx="822.1" cy="164.8" r="1.4"/><circle cx="703.0" cy="150.7" r="1.4"/><circle cx="576.5" cy="60.7" r="1.4"/><circle cx="547.7" cy="87.6" r="1.4"/><circle cx="566.0" cy="83.1" r="1.4"/><circle cx="575.6" cy="57.8" r="1.4"/><circle cx="633.8" cy="95.6" r="1.4"/><circle cx="622.2" cy="81.8" r="1.4"/><circle cx="596.6" cy="59.1" r="1.4"/><circle cx="748.7" cy="163.3" r="1.4"/><circle cx="710.2" cy="149.4" r="1.4"/><circle cx="770.8" cy="152.2" r="1.4"/><circle cx="511.7" cy="72.9" r="1.4"/><circle cx="768.3" cy="159.8" r="1.4"/><circle cx="600.4" cy="71.5" r="1.4"/><circle cx="783.6" cy="151.4" r="1.4"/><circle cx="704.6" cy="159.8" r="1.4"/><circle cx="491.9" cy="70.1" r="1.4"/><circle cx="692.3" cy="150.8" r="1.4"/><circle cx="629.3" cy="88.6" r="1.4"/><circle cx="511.3" cy="82.1" r="1.4"/><circle cx="507.0" cy="74.9" r="1.4"/><circle cx="569.7" cy="57.9" r="1.4"/><circle cx="659.7" cy="128.9" r="1.4"/><circle cx="672.3" cy="151.4" r="1.4"/><circle cx="583.1" cy="71.1" r="1.4"/><circle cx="816.5" cy="159.4" r="1.4"/><circle cx="658.4" cy="129.2" r="1.4"/><circle cx="702.1" cy="152.7" r="1.4"/><circle cx="737.2" cy="156.4" r="1.4"/><circle cx="794.0" cy="151.6" r="1.4"/><circle cx="615.1" cy="76.7" r="1.4"/><circle cx="755.4" cy="162.6" r="1.4"/><circle cx="740.6" cy="157.6" r="1.4"/><circle cx="634.5" cy="95.8" r="1.4"/><circle cx="734.9" cy="152.9" r="1.4"/><circle cx="761.3" cy="163.7" r="1.4"/><circle cx="788.7" cy="157.3" r="1.4"/><circle cx="729.1" cy="153.4" r="1.4"/><circle cx="811.9" cy="159.2" r="1.4"/><circle cx="568.1" cy="81.7" r="1.4"/><circle cx="724.6" cy="159.6" r="1.4"/><circle cx="631.9" cy="91.7" r="1.4"/><circle cx="729.0" cy="150.9" r="1.4"/><circle cx="475.9" cy="72.8" r="1.4"/><circle cx="773.9" cy="165.8" r="1.4"/><circle cx="707.2" cy="148.9" r="1.4"/><circle cx="669.0" cy="144.8" r="1.4"/><circle cx="488.1" cy="65.1" r="1.4"/><circle cx="720.5" cy="165.0" r="1.4"/><circle cx="747.5" cy="158.6" r="1.4"/><circle cx="663.2" cy="137.5" r="1.4"/><circle cx="508.7" cy="86.6" r="1.4"/><circle cx="581.5" cy="82.2" r="1.4"/><circle cx="704.8" cy="160.9" r="1.4"/><circle cx="740.5" cy="156.2" r="1.4"/><circle cx="501.7" cy="70.7" r="1.4"/><circle cx="725.8" cy="164.6" r="1.4"/><circle cx="546.4" cy="78.0" r="1.4"/><circle cx="714.0" cy="155.8" r="1.4"/><circle cx="566.5" cy="77.8" r="1.4"/><circle cx="478.4" cy="74.3" r="1.4"/><circle cx="564.8" cy="59.5" r="1.4"/><circle cx="514.3" cy="82.5" r="1.4"/><circle cx="485.4" cy="70.3" r="1.4"/><circle cx="672.7" cy="141.4" r="1.4"/><circle cx="547.8" cy="69.8" r="1.4"/><circle cx="704.3" cy="158.6" r="1.4"/><circle cx="719.2" cy="163.5" r="1.4"/><circle cx="772.6" cy="166.1" r="1.4"/><circle cx="494.5" cy="61.1" r="1.4"/><circle cx="534.6" cy="70.9" r="1.4"/><circle cx="716.6" cy="159.5" r="1.4"/><circle cx="678.4" cy="154.7" r="1.4"/><circle cx="734.6" cy="161.5" r="1.4"/><circle cx="492.1" cy="62.6" r="1.4"/><circle cx="820.8" cy="150.8" r="1.4"/><circle cx="552.1" cy="72.8" r="1.4"/><circle cx="642.5" cy="101.6" r="1.4"/><circle cx="718.3" cy="156.1" r="1.4"/><circle cx="760.3" cy="165.5" r="1.4"/><circle cx="549.7" cy="80.0" r="1.4"/><circle cx="520.8" cy="87.9" r="1.4"/><circle cx="732.0" cy="158.2" r="1.4"/><circle cx="819.3" cy="161.7" r="1.4"/><circle cx="516.5" cy="88.6" r="1.4"/><circle cx="646.3" cy="112.6" r="1.4"/><circle cx="781.1" cy="154.5" r="1.4"/><circle cx="479.0" cy="70.9" r="1.4"/><circle cx="493.9" cy="72.6" r="1.4"/><circle cx="782.7" cy="157.4" r="1.4"/><circle cx="712.1" cy="163.9" r="1.4"/><circle cx="707.8" cy="157.0" r="1.4"/><circle cx="481.7" cy="88.6" r="1.4"/><circle cx="811.7" cy="152.2" r="1.4"/><circle cx="635.0" cy="85.0" r="1.4"/><circle cx="490.0" cy="82.0" r="1.4"/><circle cx="589.8" cy="60.4" r="1.4"/><circle cx="769.5" cy="166.1" r="1.4"/><circle cx="751.5" cy="161.9" r="1.4"/><circle cx="585.3" cy="77.8" r="1.4"/><circle cx="487.2" cy="72.6" r="1.4"/><circle cx="805.3" cy="162.2" r="1.4"/><circle cx="769.7" cy="154.1" r="1.4"/><circle cx="783.5" cy="154.4" r="1.4"/><circle cx="809.7" cy="158.7" r="1.4"/><circle cx="662.3" cy="136.6" r="1.4"/><circle cx="723.9" cy="151.9" r="1.4"/><circle cx="525.9" cy="88.6" r="1.4"/><circle cx="598.0" cy="58.4" r="1.4"/><circle cx="617.7" cy="56.3" r="1.4"/><circle cx="597.8" cy="74.4" r="1.4"/><circle cx="541.5" cy="87.8" r="1.4"/><circle cx="625.4" cy="81.7" r="1.4"/><circle cx="810.6" cy="160.5" r="1.4"/><circle cx="745.9" cy="152.7" r="1.4"/><circle cx="805.8" cy="159.8" r="1.4"/><circle cx="686.8" cy="153.9" r="1.4"/><circle cx="636.9" cy="94.5" r="1.4"/><circle cx="586.0" cy="73.6" r="1.4"/><circle cx="818.5" cy="156.6" r="1.4"/><circle cx="706.4" cy="162.7" r="1.4"/><circle cx="503.2" cy="88.3" r="1.4"/><circle cx="626.8" cy="65.6" r="1.4"/><circle cx="660.5" cy="133.0" r="1.4"/><circle cx="716.0" cy="151.8" r="1.4"/><circle cx="547.9" cy="86.4" r="1.4"/><circle cx="815.7" cy="159.1" r="1.4"/><circle cx="512.5" cy="67.1" r="1.4"/><circle cx="808.6" cy="165.8" r="1.4"/><circle cx="807.9" cy="154.3" r="1.4"/><circle cx="710.8" cy="160.4" r="1.4"/><circle cx="631.4" cy="93.1" r="1.4"/><circle cx="676.6" cy="144.3" r="1.4"/><circle cx="479.2" cy="61.7" r="1.4"/><circle cx="519.8" cy="81.0" r="1.4"/><circle cx="582.1" cy="66.6" r="1.4"/><circle cx="742.9" cy="156.1" r="1.4"/><circle cx="732.2" cy="155.1" r="1.4"/><circle cx="713.4" cy="152.1" r="1.4"/><circle cx="665.2" cy="137.0" r="1.4"/><circle cx="492.3" cy="62.9" r="1.4"/><circle cx="577.2" cy="82.8" r="1.4"/><circle cx="520.7" cy="77.3" r="1.4"/><circle cx="535.7" cy="86.2" r="1.4"/><circle cx="505.8" cy="59.9" r="1.4"/><circle cx="629.6" cy="83.9" r="1.4"/><circle cx="695.2" cy="151.7" r="1.4"/><circle cx="638.9" cy="98.4" r="1.4"/><circle cx="732.4" cy="165.0" r="1.4"/><circle cx="778.3" cy="156.1" r="1.4"/><circle cx="633.4" cy="81.0" r="1.4"/><circle cx="772.5" cy="159.8" r="1.4"/><circle cx="689.6" cy="151.1" r="1.4"/><circle cx="686.9" cy="151.4" r="1.4"/><circle cx="525.4" cy="74.3" r="1.4"/><circle cx="821.5" cy="157.7" r="1.4"/><circle cx="545.3" cy="87.0" r="1.4"/><circle cx="815.4" cy="159.2" r="1.4"/><circle cx="559.5" cy="64.0" r="1.4"/><circle cx="509.2" cy="84.7" r="1.4"/><circle cx="530.9" cy="60.5" r="1.4"/><circle cx="710.5" cy="153.6" r="1.4"/><circle cx="474.0" cy="62.5" r="1.4"/><circle cx="584.3" cy="59.2" r="1.4"/><circle cx="497.2" cy="66.0" r="1.4"/><circle cx="689.1" cy="145.9" r="1.4"/><circle cx="557.7" cy="65.2" r="1.4"/><circle cx="710.4" cy="154.5" r="1.4"/><circle cx="531.9" cy="82.2" r="1.4"/><circle cx="522.9" cy="87.4" r="1.4"/><circle cx="555.9" cy="66.5" r="1.4"/><circle cx="477.8" cy="73.8" r="1.4"/><circle cx="486.9" cy="85.9" r="1.4"/><circle cx="798.6" cy="162.4" r="1.4"/><circle cx="718.4" cy="162.8" r="1.4"/><circle cx="711.4" cy="149.2" r="1.4"/><circle cx="818.6" cy="160.2" r="1.4"/><circle cx="666.7" cy="144.2" r="1.4"/><circle cx="773.6" cy="156.5" r="1.4"/><circle cx="559.1" cy="81.4" r="1.4"/><circle cx="579.0" cy="82.4" r="1.4"/><circle cx="536.0" cy="80.1" r="1.4"/><circle cx="743.8" cy="152.9" r="1.4"/><circle cx="617.7" cy="74.8" r="1.4"/><circle cx="717.1" cy="155.0" r="1.4"/><circle cx="622.7" cy="77.3" r="1.4"/><circle cx="518.6" cy="61.4" r="1.4"/><circle cx="805.2" cy="160.6" r="1.4"/><circle cx="591.4" cy="76.8" r="1.4"/><circle cx="530.5" cy="84.3" r="1.4"/><circle cx="562.7" cy="64.7" r="1.4"/><circle cx="694.5" cy="150.4" r="1.4"/><circle cx="653.5" cy="115.1" r="1.4"/><circle cx="720.6" cy="151.0" r="1.4"/><circle cx="588.8" cy="81.4" r="1.4"/><circle cx="521.7" cy="62.7" r="1.4"/><circle cx="694.1" cy="156.6" r="1.4"/><circle cx="811.7" cy="157.6" r="1.4"/><circle cx="592.8" cy="61.1" r="1.4"/><circle cx="735.6" cy="154.6" r="1.4"/><circle cx="543.5" cy="69.8" r="1.4"/><circle cx="512.0" cy="64.9" r="1.4"/><circle cx="584.2" cy="61.9" r="1.4"/><circle cx="767.5" cy="164.1" r="1.4"/><circle cx="687.7" cy="149.9" r="1.4"/><circle cx="513.1" cy="79.4" r="1.4"/><circle cx="722.2" cy="154.8" r="1.4"/><circle cx="742.1" cy="151.6" r="1.4"/><circle cx="528.7" cy="63.2" r="1.4"/><circle cx="795.6" cy="164.4" r="1.4"/><circle cx="631.6" cy="87.1" r="1.4"/><circle cx="493.6" cy="86.4" r="1.4"/><circle cx="547.1" cy="77.3" r="1.4"/><circle cx="682.4" cy="145.9" r="1.4"/><circle cx="751.3" cy="162.9" r="1.4"/><circle cx="574.5" cy="61.1" r="1.4"/><circle cx="618.3" cy="72.1" r="1.4"/><circle cx="626.4" cy="71.8" r="1.4"/><circle cx="815.5" cy="162.5" r="1.4"/><circle cx="477.1" cy="87.9" r="1.4"/><circle cx="784.7" cy="156.3" r="1.4"/><circle cx="610.7" cy="69.1" r="1.4"/><circle cx="795.8" cy="158.9" r="1.4"/><circle cx="817.3" cy="153.5" r="1.4"/><circle cx="818.1" cy="154.3" r="1.4"/><circle cx="558.3" cy="73.9" r="1.4"/><circle cx="479.9" cy="84.3" r="1.4"/><circle cx="544.4" cy="61.5" r="1.4"/><circle cx="570.1" cy="74.3" r="1.4"/><circle cx="771.2" cy="156.4" r="1.4"/><circle cx="549.0" cy="67.2" r="1.4"/><circle cx="777.1" cy="155.2" r="1.4"/><circle cx="705.1" cy="162.6" r="1.4"/><circle cx="744.3" cy="156.9" r="1.4"/><circle cx="692.1" cy="150.9" r="1.4"/><circle cx="506.3" cy="77.5" r="1.4"/><circle cx="560.8" cy="69.3" r="1.4"/><circle cx="727.3" cy="158.2" r="1.4"/><circle cx="572.3" cy="83.0" r="1.4"/><circle cx="780.3" cy="155.7" r="1.4"/><circle cx="776.6" cy="159.0" r="1.4"/><circle cx="816.0" cy="151.2" r="1.4"/><circle cx="723.8" cy="157.6" r="1.4"/><circle cx="513.9" cy="74.1" r="1.4"/><circle cx="484.1" cy="86.3" r="1.4"/><circle cx="711.9" cy="161.2" r="1.4"/><circle cx="532.9" cy="77.1" r="1.4"/><circle cx="476.2" cy="85.1" r="1.4"/><circle cx="682.3" cy="144.6" r="1.4"/><circle cx="492.5" cy="68.2" r="1.4"/><circle cx="708.2" cy="160.5" r="1.4"/><circle cx="805.7" cy="156.4" r="1.4"/><circle cx="682.7" cy="156.1" r="1.4"/><circle cx="484.6" cy="65.7" r="1.4"/><circle cx="513.7" cy="63.6" r="1.4"/><circle cx="769.5" cy="166.2" r="1.4"/><circle cx="582.1" cy="63.6" r="1.4"/><circle cx="532.6" cy="67.2" r="1.4"/><circle cx="595.5" cy="80.2" r="1.4"/><circle cx="500.5" cy="77.2" r="1.4"/><circle cx="639.3" cy="105.0" r="1.4"/><circle cx="598.9" cy="66.2" r="1.4"/><circle cx="493.4" cy="70.2" r="1.4"/><circle cx="744.2" cy="160.0" r="1.4"/><circle cx="677.0" cy="154.3" r="1.4"/><circle cx="702.8" cy="160.6" r="1.4"/><circle cx="487.1" cy="67.7" r="1.4"/><circle cx="665.8" cy="135.6" r="1.4"/><circle cx="562.7" cy="58.6" r="1.4"/><circle cx="713.4" cy="158.8" r="1.4"/><circle cx="630.2" cy="77.9" r="1.4"/><circle cx="741.8" cy="153.0" r="1.4"/><circle cx="765.9" cy="166.0" r="1.4"/><circle cx="662.7" cy="136.2" r="1.4"/><circle cx="529.9" cy="70.8" r="1.4"/><circle cx="775.1" cy="156.0" r="1.4"/><circle cx="482.8" cy="76.1" r="1.4"/><circle cx="566.4" cy="62.7" r="1.4"/><circle cx="722.8" cy="150.6" r="1.4"/><circle cx="728.3" cy="153.4" r="1.4"/><circle cx="521.4" cy="82.4" r="1.4"/><circle cx="653.4" cy="128.2" r="1.4"/><circle cx="564.8" cy="79.5" r="1.4"/><circle cx="589.8" cy="69.3" r="1.4"/><circle cx="487.1" cy="83.3" r="1.4"/><circle cx="555.2" cy="60.7" r="1.4"/><circle cx="505.3" cy="82.7" r="1.4"/><circle cx="523.9" cy="72.3" r="1.4"/><circle cx="648.9" cy="115.2" r="1.4"/><circle cx="592.2" cy="68.8" r="1.4"/><circle cx="489.6" cy="72.9" r="1.4"/><circle cx="784.9" cy="153.4" r="1.4"/><circle cx="520.1" cy="68.6" r="1.4"/><circle cx="482.9" cy="83.7" r="1.4"/><circle cx="572.1" cy="58.8" r="1.4"/><circle cx="715.6" cy="164.2" r="1.4"/><circle cx="816.1" cy="157.7" r="1.4"/><circle cx="485.0" cy="80.2" r="1.4"/><circle cx="805.2" cy="160.3" r="1.4"/><circle cx="790.1" cy="157.2" r="1.4"/><circle cx="731.8" cy="153.4" r="1.4"/><circle cx="688.4" cy="152.6" r="1.4"/><circle cx="814.5" cy="159.7" r="1.4"/><circle cx="476.0" cy="79.9" r="1.4"/><circle cx="554.3" cy="61.9" r="1.4"/><circle cx="664.0" cy="140.7" r="1.4"/><circle cx="647.7" cy="105.5" r="1.4"/><circle cx="608.9" cy="70.1" r="1.4"/><circle cx="535.5" cy="62.8" r="1.4"/><circle cx="656.0" cy="131.3" r="1.4"/><circle cx="483.1" cy="67.8" r="1.4"/><circle cx="561.9" cy="82.5" r="1.4"/><circle cx="740.0" cy="156.7" r="1.4"/><circle cx="611.8" cy="66.2" r="1.4"/><circle cx="566.2" cy="67.7" r="1.4"/><circle cx="701.6" cy="152.9" r="1.4"/><circle cx="785.7" cy="152.9" r="1.4"/><circle cx="573.4" cy="74.4" r="1.4"/><circle cx="501.3" cy="60.8" r="1.4"/><circle cx="561.4" cy="84.5" r="1.4"/><circle cx="520.6" cy="79.5" r="1.4"/><circle cx="601.1" cy="58.7" r="1.4"/><circle cx="633.5" cy="82.8" r="1.4"/><circle cx="574.5" cy="58.4" r="1.4"/><circle cx="475.7" cy="81.6" r="1.4"/><circle cx="666.7" cy="136.3" r="1.4"/><circle cx="504.3" cy="83.8" r="1.4"/><circle cx="715.9" cy="151.8" r="1.4"/><circle cx="660.6" cy="125.3" r="1.4"/><circle cx="807.4" cy="165.4" r="1.4"/><circle cx="559.4" cy="68.7" r="1.4"/><circle cx="542.2" cy="85.5" r="1.4"/><circle cx="796.0" cy="151.1" r="1.4"/><circle cx="485.3" cy="75.8" r="1.4"/><circle cx="596.2" cy="68.1" r="1.4"/><circle cx="481.3" cy="66.7" r="1.4"/><circle cx="600.7" cy="57.1" r="1.4"/><circle cx="802.3" cy="159.4" r="1.4"/><circle cx="552.0" cy="79.7" r="1.4"/><circle cx="662.9" cy="137.4" r="1.4"/><circle cx="526.2" cy="66.0" r="1.4"/><circle cx="759.6" cy="163.5" r="1.4"/><circle cx="588.5" cy="79.7" r="1.4"/><circle cx="604.6" cy="71.4" r="1.4"/><circle cx="661.0" cy="141.9" r="1.4"/><circle cx="508.2" cy="83.8" r="1.4"/><circle cx="744.0" cy="151.6" r="1.4"/><circle cx="550.6" cy="61.8" r="1.4"/><circle cx="812.2" cy="163.8" r="1.4"/><circle cx="594.2" cy="59.0" r="1.4"/><circle cx="599.1" cy="52.9" r="1.4"/><circle cx="603.0" cy="47.4" r="1.4"/><circle cx="606.5" cy="49.9" r="1.4"/><circle cx="610.5" cy="51.1" r="1.4"/><circle cx="615.7" cy="53.7" r="1.4"/><circle cx="619.9" cy="58.3" r="1.4"/><circle cx="626.1" cy="64.0" r="1.4"/></g><path d="M478.55 225.40v-2.40M478.55 1.10v2.40M499.60 225.40v-4.30M499.60 1.10v4.30M520.65 225.40v-2.40M520.65 1.10v2.40M541.70 225.40v-2.40M541.70 1.10v2.40M562.75 225.40v-2.40M562.75 1.10v2.40M583.80 225.40v-4.30M583.80 1.10v4.30M604.85 225.40v-2.40M604.85 1.10v2.40M625.90 225.40v-2.40M625.90 1.10v2.40M646.95 225.40v-2.40M646.95 1.10v2.40M668.00 225.40v-4.30M668.00 1.10v4.30M689.05 225.40v-2.40M689.05 1.10v2.40M710.10 225.40v-2.40M710.10 1.10v2.40M731.15 225.40v-2.40M731.15 1.10v2.40M752.20 225.40v-4.30M752.20 1.10v4.30M773.25 225.40v-2.40M773.25 1.10v2.40M794.30 225.40v-2.40M794.30 1.10v2.40M815.35 225.40v-2.40M815.35 1.10v2.40M466.40 219.85h2.40M829.10 219.85h-2.40M466.40 214.10h4.30M829.10 214.10h-4.30M466.40 208.34h2.40M829.10 208.34h-2.40M466.40 202.58h2.40M829.10 202.58h-2.40M466.40 196.82h2.40M829.10 196.82h-2.40M466.40 191.07h2.40M829.10 191.07h-2.40M466.40 185.31h4.30M829.10 185.31h-4.30M466.40 179.55h2.40M829.10 179.55h-2.40M466.40 173.80h2.40M829.10 173.80h-2.40M466.40 168.04h2.40M829.10 168.04h-2.40M466.40 162.28h2.40M829.10 162.28h-2.40M466.40 156.53h4.30M829.10 156.53h-4.30M466.40 150.77h2.40M829.10 150.77h-2.40M466.40 145.01h2.40M829.10 145.01h-2.40M466.40 139.25h2.40M829.10 139.25h-2.40M466.40 133.50h2.40M829.10 133.50h-2.40M466.40 127.74h4.30M829.10 127.74h-4.30M466.40 121.98h2.40M829.10 121.98h-2.40M466.40 116.23h2.40M829.10 116.23h-2.40M466.40 110.47h2.40M829.10 110.47h-2.40M466.40 104.71h2.40M829.10 104.71h-2.40M466.40 98.96h4.30M829.10 98.96h-4.30M466.40 93.20h2.40M829.10 93.20h-2.40M466.40 87.44h2.40M829.10 87.44h-2.40M466.40 81.68h2.40M829.10 81.68h-2.40M466.40 75.93h2.40M829.10 75.93h-2.40M466.40 70.17h4.30M829.10 70.17h-4.30M466.40 64.41h2.40M829.10 64.41h-2.40M466.40 58.66h2.40M829.10 58.66h-2.40M466.40 52.90h2.40M829.10 52.90h-2.40M466.40 47.14h2.40M829.10 47.14h-2.40M466.40 41.38h4.30M829.10 41.38h-4.30M466.40 35.63h2.40M829.10 35.63h-2.40M466.40 29.87h2.40M829.10 29.87h-2.40M466.40 24.11h2.40M829.10 24.11h-2.40M466.40 18.36h2.40M829.10 18.36h-2.40M466.40 12.60h4.30M829.10 12.60h-4.30M466.40 6.84h2.40M829.10 6.84h-2.40" stroke="#000" stroke-width="1.90" fill="none"/><rect x="466.40" y="1.10" width="362.70" height="224.30" fill="none" stroke="#000" stroke-width="1.3"/><text x="499.60" y="241.5" text-anchor="middle" font-size="13.2">0.8</text><text x="583.80" y="241.5" text-anchor="middle" font-size="13.2">1.0</text><text x="668.00" y="241.5" text-anchor="middle" font-size="13.2">1.2</text><text x="752.20" y="241.5" text-anchor="middle" font-size="13.2">1.4</text><text x="462.30" y="218.85" text-anchor="end" font-size="13.2">0.05</text><text x="462.30" y="190.06" text-anchor="end" font-size="13.2">0.10</text><text x="462.30" y="161.28" text-anchor="end" font-size="13.2">0.15</text><text x="462.30" y="132.49" text-anchor="end" font-size="13.2">0.20</text><text x="462.30" y="103.71" text-anchor="end" font-size="13.2">0.25</text><text x="462.30" y="74.92" text-anchor="end" font-size="13.2">0.30</text><text x="462.30" y="46.13" text-anchor="end" font-size="13.2">0.35</text><text x="462.30" y="17.35" text-anchor="end" font-size="13.2">0.40</text><text transform="translate(426.2 115.0) rotate(-90)" font-style="italic">r</text><g font-size="13.5"><text x="590.25" y="267.80">log</text><text x="609.00" y="267.80">(</text><text x="614.10" y="267.80" font-style="italic" font-size="13.9">λ</text><text x="621.40" y="267.80">)</text><text x="625.90" y="267.80">/</text><text x="629.40" y="267.80">log</text><text transform="translate(647.30 270.70) scale(0.88 1.95)" font-size="13.5">(</text><text x="651.80" y="267.80" font-style="italic" font-size="14">m</text><text x="663.40" y="261.80" font-size="10">2</text><text x="669.80" y="267.80" font-style="italic">/</text><text x="673.80" y="267.80" font-style="italic" font-size="14">M</text><text x="685.00" y="270.50" font-size="10">pl</text><text x="693.80" y="261.50" font-size="10">2</text><text transform="translate(701.20 270.70) scale(0.88 1.95)" font-size="13.5">)</text></g></svg></body></html>
